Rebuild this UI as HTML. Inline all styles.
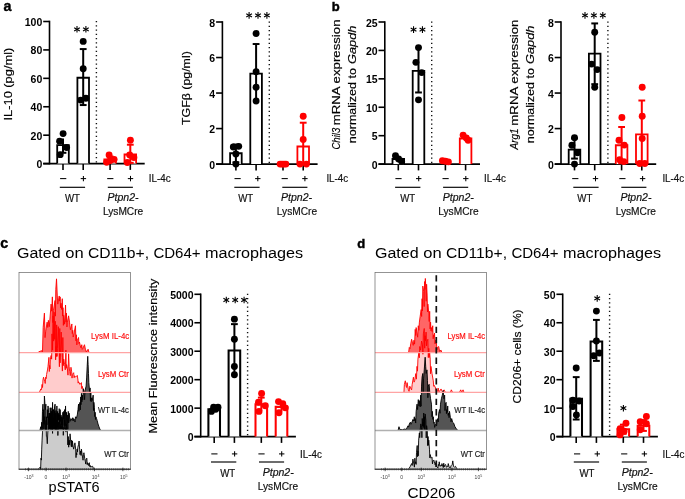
<!DOCTYPE html>
<html><head><meta charset="utf-8"><title>Figure</title>
<style>
html,body{margin:0;padding:0;background:#fff;}
body{width:685px;height:499px;overflow:hidden;font-family:"Liberation Sans",sans-serif;}
svg{display:block;will-change:transform;}
</style></head>
<body>
<svg width="685" height="499" viewBox="0 0 685 499" font-family="Liberation Sans, sans-serif">
<rect x="0" y="0" width="685" height="499" fill="#fff"/>
<text x="3.40" y="10.60" font-family="Liberation Sans, sans-serif" font-size="14.3" fill="#000" font-weight="bold" stroke="#000" stroke-width="0.4" text-anchor="start">a</text>
<text x="331.70" y="10.50" font-family="Liberation Sans, sans-serif" font-size="13" fill="#000" font-weight="bold" stroke="#000" stroke-width="0.45" text-anchor="start">b</text>
<text x="0.20" y="247.90" font-family="Liberation Sans, sans-serif" font-size="14.3" fill="#000" font-weight="bold" stroke="#000" stroke-width="0.4" text-anchor="start">c</text>
<text x="357.30" y="247.80" font-family="Liberation Sans, sans-serif" font-size="13" fill="#000" font-weight="bold" stroke="#000" stroke-width="0.45" text-anchor="start">d</text>
<line x1="96.40" y1="21.00" x2="96.40" y2="163.00" stroke="#111" stroke-width="1.4" stroke-dasharray="1.25 3.0"/>
<line x1="49.50" y1="20.70" x2="49.50" y2="164.40" stroke="#000" stroke-width="1.6" />
<line x1="43.20" y1="163.60" x2="144.70" y2="163.60" stroke="#000" stroke-width="1.6" />
<line x1="43.20" y1="163.60" x2="49.50" y2="163.60" stroke="#000" stroke-width="1.6" />
<text x="36.46" y="168.10" font-family="Liberation Sans, sans-serif" font-size="10.5" fill="#000" font-weight="bold" textLength="5.84" lengthAdjust="spacingAndGlyphs">0</text>
<line x1="43.20" y1="135.18" x2="49.50" y2="135.18" stroke="#000" stroke-width="1.6" />
<text x="30.62" y="139.68" font-family="Liberation Sans, sans-serif" font-size="10.5" fill="#000" font-weight="bold" textLength="11.68" lengthAdjust="spacingAndGlyphs">20</text>
<line x1="43.20" y1="106.76" x2="49.50" y2="106.76" stroke="#000" stroke-width="1.6" />
<text x="30.62" y="111.26" font-family="Liberation Sans, sans-serif" font-size="10.5" fill="#000" font-weight="bold" textLength="11.68" lengthAdjust="spacingAndGlyphs">40</text>
<line x1="43.20" y1="78.34" x2="49.50" y2="78.34" stroke="#000" stroke-width="1.6" />
<text x="30.62" y="82.84" font-family="Liberation Sans, sans-serif" font-size="10.5" fill="#000" font-weight="bold" textLength="11.68" lengthAdjust="spacingAndGlyphs">60</text>
<line x1="43.20" y1="49.92" x2="49.50" y2="49.92" stroke="#000" stroke-width="1.6" />
<text x="30.62" y="54.42" font-family="Liberation Sans, sans-serif" font-size="10.5" fill="#000" font-weight="bold" textLength="11.68" lengthAdjust="spacingAndGlyphs">80</text>
<line x1="43.20" y1="21.50" x2="49.50" y2="21.50" stroke="#000" stroke-width="1.6" />
<text x="24.78" y="26.00" font-family="Liberation Sans, sans-serif" font-size="10.5" fill="#000" font-weight="bold" textLength="17.52" lengthAdjust="spacingAndGlyphs">100</text>
<line x1="63.00" y1="163.60" x2="63.00" y2="169.90" stroke="#000" stroke-width="1.6" />
<line x1="83.20" y1="163.60" x2="83.20" y2="169.90" stroke="#000" stroke-width="1.6" />
<line x1="110.10" y1="163.60" x2="110.10" y2="169.90" stroke="#000" stroke-width="1.6" />
<line x1="130.30" y1="163.60" x2="130.30" y2="169.90" stroke="#000" stroke-width="1.6" />
<path d="M57.20,163.60 V145.13 H68.80 V163.60" fill="#fff" stroke="#000" stroke-width="1.8"/>
<line x1="63.00" y1="152.80" x2="63.00" y2="138.59" stroke="#000" stroke-width="2.0" />
<line x1="59.60" y1="152.80" x2="66.40" y2="152.80" stroke="#000" stroke-width="2.0" />
<circle cx="63.10" cy="133.62" r="3.45" fill="#000"/>
<circle cx="59.60" cy="141.15" r="3.45" fill="#000"/>
<circle cx="66.60" cy="147.54" r="3.45" fill="#000"/>
<circle cx="60.20" cy="154.65" r="3.45" fill="#000"/>
<path d="M77.40,163.60 V77.77 H89.00 V163.60" fill="#fff" stroke="#000" stroke-width="1.8"/>
<line x1="83.20" y1="105.05" x2="83.20" y2="49.07" stroke="#000" stroke-width="2.0" />
<line x1="79.80" y1="49.07" x2="86.60" y2="49.07" stroke="#000" stroke-width="2.0" />
<line x1="79.80" y1="105.05" x2="86.60" y2="105.05" stroke="#000" stroke-width="2.0" />
<circle cx="83.20" cy="41.39" r="3.45" fill="#000"/>
<circle cx="83.20" cy="68.68" r="3.45" fill="#000"/>
<circle cx="80.60" cy="100.08" r="3.45" fill="#000"/>
<circle cx="85.90" cy="98.23" r="3.45" fill="#000"/>
<path d="M104.30,163.60 V159.34 H115.90 V163.60" fill="#fff" stroke="#f00" stroke-width="1.8"/>
<line x1="110.10" y1="161.47" x2="110.10" y2="156.50" stroke="#f00" stroke-width="2.0" />
<line x1="106.70" y1="156.50" x2="113.50" y2="156.50" stroke="#f00" stroke-width="2.0" />
<line x1="106.70" y1="161.47" x2="113.50" y2="161.47" stroke="#f00" stroke-width="2.0" />
<circle cx="109.10" cy="155.07" r="3.45" fill="#f00"/>
<circle cx="106.70" cy="162.18" r="3.45" fill="#f00"/>
<circle cx="114.10" cy="159.34" r="3.45" fill="#f00"/>
<circle cx="110.30" cy="160.47" r="3.45" fill="#f00"/>
<path d="M124.50,163.60 V154.51 H136.10 V163.60" fill="#fff" stroke="#f00" stroke-width="1.8"/>
<line x1="130.30" y1="162.89" x2="130.30" y2="144.70" stroke="#f00" stroke-width="2.0" />
<line x1="126.90" y1="144.70" x2="133.70" y2="144.70" stroke="#f00" stroke-width="2.0" />
<line x1="126.90" y1="162.89" x2="133.70" y2="162.89" stroke="#f00" stroke-width="2.0" />
<circle cx="130.40" cy="140.30" r="3.45" fill="#f00"/>
<circle cx="129.70" cy="155.07" r="3.45" fill="#f00"/>
<circle cx="133.90" cy="157.49" r="3.45" fill="#f00"/>
<circle cx="127.30" cy="162.46" r="3.45" fill="#f00"/>
<line x1="60.10" y1="178.60" x2="66.30" y2="178.60" stroke="#000" stroke-width="1.05" />
<line x1="80.70" y1="178.60" x2="86.10" y2="178.60" stroke="#000" stroke-width="1.05" />
<line x1="83.40" y1="175.90" x2="83.40" y2="181.30" stroke="#000" stroke-width="1.05" />
<line x1="107.20" y1="178.60" x2="113.40" y2="178.60" stroke="#000" stroke-width="1.05" />
<line x1="127.80" y1="178.60" x2="133.20" y2="178.60" stroke="#000" stroke-width="1.05" />
<line x1="130.50" y1="175.90" x2="130.50" y2="181.30" stroke="#000" stroke-width="1.05" />
<text x="148.80" y="182.10" font-family="Liberation Sans, sans-serif" font-size="10" fill="#111" stroke="#111" stroke-width="0.18" textLength="21.80" lengthAdjust="spacingAndGlyphs">IL-4c</text>
<line x1="59.80" y1="187.30" x2="85.10" y2="187.30" stroke="#000" stroke-width="1.15" />
<line x1="107.80" y1="187.30" x2="132.90" y2="187.30" stroke="#000" stroke-width="1.15" />
<text x="64.90" y="202.00" font-family="Liberation Sans, sans-serif" font-size="10" fill="#111" stroke="#111" stroke-width="0.18" textLength="15.00" lengthAdjust="spacingAndGlyphs">WT</text>
<text x="107.50" y="200.70" font-family="Liberation Sans, sans-serif" font-size="10" fill="#111" stroke="#111" stroke-width="0.18" font-style="italic" textLength="31.00" lengthAdjust="spacingAndGlyphs">Ptpn2-</text>
<text x="102.95" y="215.20" font-family="Liberation Sans, sans-serif" font-size="10" fill="#111" stroke="#111" stroke-width="0.18" textLength="40.30" lengthAdjust="spacingAndGlyphs">LysMCre</text>
<line x1="77.00" y1="26.00" x2="77.00" y2="32.60" stroke="#000" stroke-width="1.1" />
<line x1="79.86" y1="27.65" x2="74.14" y2="30.95" stroke="#000" stroke-width="1.1" />
<line x1="79.86" y1="30.95" x2="74.14" y2="27.65" stroke="#000" stroke-width="1.1" />
<line x1="85.90" y1="26.00" x2="85.90" y2="32.60" stroke="#000" stroke-width="1.1" />
<line x1="88.76" y1="27.65" x2="83.04" y2="30.95" stroke="#000" stroke-width="1.1" />
<line x1="88.76" y1="30.95" x2="83.04" y2="27.65" stroke="#000" stroke-width="1.1" />
<line x1="269.30" y1="21.50" x2="269.30" y2="163.50" stroke="#111" stroke-width="1.4" stroke-dasharray="1.25 3.0"/>
<line x1="222.40" y1="21.20" x2="222.40" y2="164.90" stroke="#000" stroke-width="1.6" />
<line x1="216.10" y1="164.10" x2="317.60" y2="164.10" stroke="#000" stroke-width="1.6" />
<line x1="216.10" y1="164.10" x2="222.40" y2="164.10" stroke="#000" stroke-width="1.6" />
<text x="209.36" y="168.60" font-family="Liberation Sans, sans-serif" font-size="10.5" fill="#000" font-weight="bold" textLength="5.84" lengthAdjust="spacingAndGlyphs">0</text>
<line x1="216.10" y1="128.57" x2="222.40" y2="128.57" stroke="#000" stroke-width="1.6" />
<text x="209.36" y="133.07" font-family="Liberation Sans, sans-serif" font-size="10.5" fill="#000" font-weight="bold" textLength="5.84" lengthAdjust="spacingAndGlyphs">2</text>
<line x1="216.10" y1="93.05" x2="222.40" y2="93.05" stroke="#000" stroke-width="1.6" />
<text x="209.36" y="97.55" font-family="Liberation Sans, sans-serif" font-size="10.5" fill="#000" font-weight="bold" textLength="5.84" lengthAdjust="spacingAndGlyphs">4</text>
<line x1="216.10" y1="57.53" x2="222.40" y2="57.53" stroke="#000" stroke-width="1.6" />
<text x="209.36" y="62.03" font-family="Liberation Sans, sans-serif" font-size="10.5" fill="#000" font-weight="bold" textLength="5.84" lengthAdjust="spacingAndGlyphs">6</text>
<line x1="216.10" y1="22.00" x2="222.40" y2="22.00" stroke="#000" stroke-width="1.6" />
<text x="209.36" y="26.50" font-family="Liberation Sans, sans-serif" font-size="10.5" fill="#000" font-weight="bold" textLength="5.84" lengthAdjust="spacingAndGlyphs">8</text>
<line x1="235.90" y1="164.10" x2="235.90" y2="170.40" stroke="#000" stroke-width="1.6" />
<line x1="256.10" y1="164.10" x2="256.10" y2="170.40" stroke="#000" stroke-width="1.6" />
<line x1="283.00" y1="164.10" x2="283.00" y2="170.40" stroke="#000" stroke-width="1.6" />
<line x1="303.20" y1="164.10" x2="303.20" y2="170.40" stroke="#000" stroke-width="1.6" />
<path d="M230.10,164.10 V153.26 H241.70 V164.10" fill="#fff" stroke="#000" stroke-width="1.8"/>
<line x1="235.90" y1="162.32" x2="235.90" y2="144.56" stroke="#000" stroke-width="2.0" />
<line x1="232.50" y1="144.56" x2="239.30" y2="144.56" stroke="#000" stroke-width="2.0" />
<line x1="232.50" y1="162.32" x2="239.30" y2="162.32" stroke="#000" stroke-width="2.0" />
<circle cx="233.30" cy="147.05" r="3.45" fill="#000"/>
<circle cx="238.70" cy="146.34" r="3.45" fill="#000"/>
<circle cx="235.90" cy="153.98" r="3.45" fill="#000"/>
<circle cx="235.90" cy="164.10" r="3.45" fill="#000"/>
<path d="M250.30,164.10 V73.69 H261.90 V164.10" fill="#fff" stroke="#000" stroke-width="1.8"/>
<line x1="256.10" y1="101.93" x2="256.10" y2="44.03" stroke="#000" stroke-width="2.0" />
<line x1="252.70" y1="44.03" x2="259.50" y2="44.03" stroke="#000" stroke-width="2.0" />
<circle cx="256.10" cy="33.55" r="3.45" fill="#000"/>
<circle cx="256.10" cy="71.73" r="3.45" fill="#000"/>
<circle cx="256.10" cy="87.19" r="3.45" fill="#000"/>
<circle cx="256.10" cy="101.04" r="3.45" fill="#000"/>
<circle cx="280.10" cy="164.10" r="3.45" fill="#f00"/>
<circle cx="282.00" cy="164.10" r="3.45" fill="#f00"/>
<circle cx="284.00" cy="164.10" r="3.45" fill="#f00"/>
<circle cx="285.90" cy="164.10" r="3.45" fill="#f00"/>
<path d="M297.40,164.10 V146.52 H309.00 V164.10" fill="#fff" stroke="#f00" stroke-width="1.8"/>
<line x1="303.20" y1="164.10" x2="303.20" y2="122.71" stroke="#f00" stroke-width="2.0" />
<line x1="299.80" y1="122.71" x2="306.60" y2="122.71" stroke="#f00" stroke-width="2.0" />
<circle cx="303.20" cy="116.32" r="3.45" fill="#f00"/>
<circle cx="303.20" cy="139.41" r="3.45" fill="#f00"/>
<circle cx="300.00" cy="164.10" r="3.45" fill="#f00"/>
<circle cx="306.40" cy="164.10" r="3.45" fill="#f00"/>
<line x1="234.50" y1="178.60" x2="240.70" y2="178.60" stroke="#000" stroke-width="1.05" />
<line x1="255.10" y1="178.60" x2="260.50" y2="178.60" stroke="#000" stroke-width="1.05" />
<line x1="257.80" y1="175.90" x2="257.80" y2="181.30" stroke="#000" stroke-width="1.05" />
<line x1="281.60" y1="178.60" x2="287.80" y2="178.60" stroke="#000" stroke-width="1.05" />
<line x1="302.20" y1="178.60" x2="307.60" y2="178.60" stroke="#000" stroke-width="1.05" />
<line x1="304.90" y1="175.90" x2="304.90" y2="181.30" stroke="#000" stroke-width="1.05" />
<text x="326.40" y="182.10" font-family="Liberation Sans, sans-serif" font-size="10" fill="#111" stroke="#111" stroke-width="0.18" textLength="21.80" lengthAdjust="spacingAndGlyphs">IL-4c</text>
<line x1="234.30" y1="187.30" x2="259.60" y2="187.30" stroke="#000" stroke-width="1.15" />
<line x1="282.30" y1="187.30" x2="307.40" y2="187.30" stroke="#000" stroke-width="1.15" />
<text x="238.20" y="202.00" font-family="Liberation Sans, sans-serif" font-size="10" fill="#111" stroke="#111" stroke-width="0.18" textLength="15.00" lengthAdjust="spacingAndGlyphs">WT</text>
<text x="281.00" y="200.70" font-family="Liberation Sans, sans-serif" font-size="10" fill="#111" stroke="#111" stroke-width="0.18" font-style="italic" textLength="31.00" lengthAdjust="spacingAndGlyphs">Ptpn2-</text>
<text x="276.85" y="215.20" font-family="Liberation Sans, sans-serif" font-size="10" fill="#111" stroke="#111" stroke-width="0.18" textLength="40.30" lengthAdjust="spacingAndGlyphs">LysMCre</text>
<line x1="249.10" y1="12.10" x2="249.10" y2="18.70" stroke="#000" stroke-width="1.1" />
<line x1="251.96" y1="13.75" x2="246.24" y2="17.05" stroke="#000" stroke-width="1.1" />
<line x1="251.96" y1="17.05" x2="246.24" y2="13.75" stroke="#000" stroke-width="1.1" />
<line x1="258.00" y1="12.10" x2="258.00" y2="18.70" stroke="#000" stroke-width="1.1" />
<line x1="260.86" y1="13.75" x2="255.14" y2="17.05" stroke="#000" stroke-width="1.1" />
<line x1="260.86" y1="17.05" x2="255.14" y2="13.75" stroke="#000" stroke-width="1.1" />
<line x1="266.90" y1="12.10" x2="266.90" y2="18.70" stroke="#000" stroke-width="1.1" />
<line x1="269.76" y1="13.75" x2="264.04" y2="17.05" stroke="#000" stroke-width="1.1" />
<line x1="269.76" y1="17.05" x2="264.04" y2="13.75" stroke="#000" stroke-width="1.1" />
<line x1="431.70" y1="21.50" x2="431.70" y2="163.50" stroke="#111" stroke-width="1.4" stroke-dasharray="1.25 3.0"/>
<line x1="384.80" y1="21.20" x2="384.80" y2="164.90" stroke="#000" stroke-width="1.6" />
<line x1="378.50" y1="164.10" x2="480.00" y2="164.10" stroke="#000" stroke-width="1.6" />
<line x1="378.50" y1="164.10" x2="384.80" y2="164.10" stroke="#000" stroke-width="1.6" />
<text x="371.76" y="168.60" font-family="Liberation Sans, sans-serif" font-size="10.5" fill="#000" font-weight="bold" textLength="5.84" lengthAdjust="spacingAndGlyphs">0</text>
<line x1="378.50" y1="135.68" x2="384.80" y2="135.68" stroke="#000" stroke-width="1.6" />
<text x="371.76" y="140.18" font-family="Liberation Sans, sans-serif" font-size="10.5" fill="#000" font-weight="bold" textLength="5.84" lengthAdjust="spacingAndGlyphs">5</text>
<line x1="378.50" y1="107.26" x2="384.80" y2="107.26" stroke="#000" stroke-width="1.6" />
<text x="365.92" y="111.76" font-family="Liberation Sans, sans-serif" font-size="10.5" fill="#000" font-weight="bold" textLength="11.68" lengthAdjust="spacingAndGlyphs">10</text>
<line x1="378.50" y1="78.84" x2="384.80" y2="78.84" stroke="#000" stroke-width="1.6" />
<text x="365.92" y="83.34" font-family="Liberation Sans, sans-serif" font-size="10.5" fill="#000" font-weight="bold" textLength="11.68" lengthAdjust="spacingAndGlyphs">15</text>
<line x1="378.50" y1="50.42" x2="384.80" y2="50.42" stroke="#000" stroke-width="1.6" />
<text x="365.92" y="54.92" font-family="Liberation Sans, sans-serif" font-size="10.5" fill="#000" font-weight="bold" textLength="11.68" lengthAdjust="spacingAndGlyphs">20</text>
<line x1="378.50" y1="22.00" x2="384.80" y2="22.00" stroke="#000" stroke-width="1.6" />
<text x="365.92" y="26.50" font-family="Liberation Sans, sans-serif" font-size="10.5" fill="#000" font-weight="bold" textLength="11.68" lengthAdjust="spacingAndGlyphs">25</text>
<line x1="398.30" y1="164.10" x2="398.30" y2="170.40" stroke="#000" stroke-width="1.6" />
<line x1="418.50" y1="164.10" x2="418.50" y2="170.40" stroke="#000" stroke-width="1.6" />
<line x1="445.40" y1="164.10" x2="445.40" y2="170.40" stroke="#000" stroke-width="1.6" />
<line x1="465.60" y1="164.10" x2="465.60" y2="170.40" stroke="#000" stroke-width="1.6" />
<path d="M392.50,164.10 V158.98 H404.10 V164.10" fill="#fff" stroke="#000" stroke-width="1.8"/>
<circle cx="395.50" cy="155.80" r="3.45" fill="#000"/>
<circle cx="398.60" cy="158.98" r="3.45" fill="#000"/>
<circle cx="401.60" cy="161.26" r="3.45" fill="#000"/>
<path d="M412.70,164.10 V70.88 H424.30 V164.10" fill="#fff" stroke="#000" stroke-width="1.8"/>
<line x1="418.50" y1="92.48" x2="418.50" y2="47.58" stroke="#000" stroke-width="2.0" />
<line x1="415.10" y1="92.48" x2="421.90" y2="92.48" stroke="#000" stroke-width="2.0" />
<circle cx="418.50" cy="47.58" r="3.45" fill="#000"/>
<circle cx="415.90" cy="62.36" r="3.45" fill="#000"/>
<circle cx="421.70" cy="72.59" r="3.45" fill="#000"/>
<circle cx="418.50" cy="99.87" r="3.45" fill="#000"/>
<circle cx="442.40" cy="160.69" r="3.45" fill="#f00"/>
<circle cx="445.40" cy="161.26" r="3.45" fill="#f00"/>
<circle cx="448.40" cy="161.83" r="3.45" fill="#f00"/>
<path d="M459.80,164.10 V138.52 H471.40 V164.10" fill="#fff" stroke="#f00" stroke-width="1.8"/>
<line x1="465.60" y1="140.80" x2="465.60" y2="135.68" stroke="#f00" stroke-width="2.0" />
<circle cx="463.10" cy="135.11" r="3.45" fill="#f00"/>
<circle cx="466.30" cy="137.95" r="3.45" fill="#f00"/>
<circle cx="468.10" cy="140.23" r="3.45" fill="#f00"/>
<line x1="395.40" y1="178.60" x2="401.60" y2="178.60" stroke="#000" stroke-width="1.05" />
<line x1="416.00" y1="178.60" x2="421.40" y2="178.60" stroke="#000" stroke-width="1.05" />
<line x1="418.70" y1="175.90" x2="418.70" y2="181.30" stroke="#000" stroke-width="1.05" />
<line x1="442.50" y1="178.60" x2="448.70" y2="178.60" stroke="#000" stroke-width="1.05" />
<line x1="463.10" y1="178.60" x2="468.50" y2="178.60" stroke="#000" stroke-width="1.05" />
<line x1="465.80" y1="175.90" x2="465.80" y2="181.30" stroke="#000" stroke-width="1.05" />
<text x="484.10" y="182.10" font-family="Liberation Sans, sans-serif" font-size="10" fill="#111" stroke="#111" stroke-width="0.18" textLength="21.80" lengthAdjust="spacingAndGlyphs">IL-4c</text>
<line x1="395.10" y1="187.30" x2="420.40" y2="187.30" stroke="#000" stroke-width="1.15" />
<line x1="443.10" y1="187.30" x2="468.20" y2="187.30" stroke="#000" stroke-width="1.15" />
<text x="400.20" y="202.00" font-family="Liberation Sans, sans-serif" font-size="10" fill="#111" stroke="#111" stroke-width="0.18" textLength="15.00" lengthAdjust="spacingAndGlyphs">WT</text>
<text x="442.80" y="200.70" font-family="Liberation Sans, sans-serif" font-size="10" fill="#111" stroke="#111" stroke-width="0.18" font-style="italic" textLength="31.00" lengthAdjust="spacingAndGlyphs">Ptpn2-</text>
<text x="438.25" y="215.20" font-family="Liberation Sans, sans-serif" font-size="10" fill="#111" stroke="#111" stroke-width="0.18" textLength="40.30" lengthAdjust="spacingAndGlyphs">LysMCre</text>
<line x1="413.55" y1="26.30" x2="413.55" y2="32.90" stroke="#000" stroke-width="1.1" />
<line x1="416.41" y1="27.95" x2="410.69" y2="31.25" stroke="#000" stroke-width="1.1" />
<line x1="416.41" y1="31.25" x2="410.69" y2="27.95" stroke="#000" stroke-width="1.1" />
<line x1="422.45" y1="26.30" x2="422.45" y2="32.90" stroke="#000" stroke-width="1.1" />
<line x1="425.31" y1="27.95" x2="419.59" y2="31.25" stroke="#000" stroke-width="1.1" />
<line x1="425.31" y1="31.25" x2="419.59" y2="27.95" stroke="#000" stroke-width="1.1" />
<line x1="607.90" y1="21.50" x2="607.90" y2="163.50" stroke="#111" stroke-width="1.4" stroke-dasharray="1.25 3.0"/>
<line x1="561.00" y1="21.20" x2="561.00" y2="164.90" stroke="#000" stroke-width="1.6" />
<line x1="554.70" y1="164.10" x2="656.20" y2="164.10" stroke="#000" stroke-width="1.6" />
<line x1="554.70" y1="164.10" x2="561.00" y2="164.10" stroke="#000" stroke-width="1.6" />
<text x="547.96" y="168.60" font-family="Liberation Sans, sans-serif" font-size="10.5" fill="#000" font-weight="bold" textLength="5.84" lengthAdjust="spacingAndGlyphs">0</text>
<line x1="554.70" y1="128.57" x2="561.00" y2="128.57" stroke="#000" stroke-width="1.6" />
<text x="547.96" y="133.07" font-family="Liberation Sans, sans-serif" font-size="10.5" fill="#000" font-weight="bold" textLength="5.84" lengthAdjust="spacingAndGlyphs">2</text>
<line x1="554.70" y1="93.05" x2="561.00" y2="93.05" stroke="#000" stroke-width="1.6" />
<text x="547.96" y="97.55" font-family="Liberation Sans, sans-serif" font-size="10.5" fill="#000" font-weight="bold" textLength="5.84" lengthAdjust="spacingAndGlyphs">4</text>
<line x1="554.70" y1="57.53" x2="561.00" y2="57.53" stroke="#000" stroke-width="1.6" />
<text x="547.96" y="62.03" font-family="Liberation Sans, sans-serif" font-size="10.5" fill="#000" font-weight="bold" textLength="5.84" lengthAdjust="spacingAndGlyphs">6</text>
<line x1="554.70" y1="22.00" x2="561.00" y2="22.00" stroke="#000" stroke-width="1.6" />
<text x="547.96" y="26.50" font-family="Liberation Sans, sans-serif" font-size="10.5" fill="#000" font-weight="bold" textLength="5.84" lengthAdjust="spacingAndGlyphs">8</text>
<line x1="574.50" y1="164.10" x2="574.50" y2="170.40" stroke="#000" stroke-width="1.6" />
<line x1="594.70" y1="164.10" x2="594.70" y2="170.40" stroke="#000" stroke-width="1.6" />
<line x1="621.60" y1="164.10" x2="621.60" y2="170.40" stroke="#000" stroke-width="1.6" />
<line x1="641.80" y1="164.10" x2="641.80" y2="170.40" stroke="#000" stroke-width="1.6" />
<path d="M568.70,164.10 V149.53 H580.30 V164.10" fill="#fff" stroke="#000" stroke-width="1.8"/>
<line x1="574.50" y1="158.59" x2="574.50" y2="138.34" stroke="#000" stroke-width="2.0" />
<line x1="571.10" y1="138.34" x2="577.90" y2="138.34" stroke="#000" stroke-width="2.0" />
<line x1="571.10" y1="158.59" x2="577.90" y2="158.59" stroke="#000" stroke-width="2.0" />
<circle cx="574.50" cy="137.63" r="3.45" fill="#000"/>
<circle cx="571.90" cy="145.27" r="3.45" fill="#000"/>
<circle cx="577.50" cy="152.73" r="3.45" fill="#000"/>
<circle cx="574.50" cy="164.10" r="3.45" fill="#000"/>
<path d="M588.90,164.10 V53.62 H600.50 V164.10" fill="#fff" stroke="#000" stroke-width="1.8"/>
<line x1="594.70" y1="84.17" x2="594.70" y2="23.42" stroke="#000" stroke-width="2.0" />
<line x1="591.30" y1="23.42" x2="598.10" y2="23.42" stroke="#000" stroke-width="2.0" />
<line x1="591.30" y1="84.17" x2="598.10" y2="84.17" stroke="#000" stroke-width="2.0" />
<circle cx="594.70" cy="32.30" r="3.45" fill="#000"/>
<circle cx="591.60" cy="64.10" r="3.45" fill="#000"/>
<circle cx="597.20" cy="69.60" r="3.45" fill="#000"/>
<circle cx="594.70" cy="87.19" r="3.45" fill="#000"/>
<path d="M615.80,164.10 V145.27 H627.40 V164.10" fill="#fff" stroke="#f00" stroke-width="1.8"/>
<line x1="621.60" y1="163.21" x2="621.60" y2="126.98" stroke="#f00" stroke-width="2.0" />
<line x1="618.20" y1="126.98" x2="625.00" y2="126.98" stroke="#f00" stroke-width="2.0" />
<line x1="618.20" y1="163.21" x2="625.00" y2="163.21" stroke="#f00" stroke-width="2.0" />
<circle cx="621.90" cy="117.56" r="3.45" fill="#f00"/>
<circle cx="619.00" cy="140.30" r="3.45" fill="#f00"/>
<circle cx="624.30" cy="145.09" r="3.45" fill="#f00"/>
<circle cx="623.80" cy="161.61" r="3.45" fill="#f00"/>
<circle cx="619.60" cy="159.66" r="3.45" fill="#f00"/>
<path d="M636.00,164.10 V134.44 H647.60 V164.10" fill="#fff" stroke="#f00" stroke-width="1.8"/>
<line x1="641.80" y1="164.10" x2="641.80" y2="100.51" stroke="#f00" stroke-width="2.0" />
<line x1="638.40" y1="100.51" x2="645.20" y2="100.51" stroke="#f00" stroke-width="2.0" />
<circle cx="642.20" cy="87.19" r="3.45" fill="#f00"/>
<circle cx="642.20" cy="116.14" r="3.45" fill="#f00"/>
<circle cx="642.20" cy="138.52" r="3.45" fill="#f00"/>
<circle cx="639.70" cy="163.57" r="3.45" fill="#f00"/>
<circle cx="644.80" cy="163.57" r="3.45" fill="#f00"/>
<line x1="572.20" y1="178.60" x2="578.40" y2="178.60" stroke="#000" stroke-width="1.05" />
<line x1="592.80" y1="178.60" x2="598.20" y2="178.60" stroke="#000" stroke-width="1.05" />
<line x1="595.50" y1="175.90" x2="595.50" y2="181.30" stroke="#000" stroke-width="1.05" />
<line x1="619.30" y1="178.60" x2="625.50" y2="178.60" stroke="#000" stroke-width="1.05" />
<line x1="639.90" y1="178.60" x2="645.30" y2="178.60" stroke="#000" stroke-width="1.05" />
<line x1="642.60" y1="175.90" x2="642.60" y2="181.30" stroke="#000" stroke-width="1.05" />
<text x="662.40" y="182.10" font-family="Liberation Sans, sans-serif" font-size="10" fill="#111" stroke="#111" stroke-width="0.18" textLength="21.80" lengthAdjust="spacingAndGlyphs">IL-4c</text>
<line x1="573.30" y1="187.30" x2="598.60" y2="187.30" stroke="#000" stroke-width="1.15" />
<line x1="621.30" y1="187.30" x2="646.40" y2="187.30" stroke="#000" stroke-width="1.15" />
<text x="577.30" y="202.00" font-family="Liberation Sans, sans-serif" font-size="10" fill="#111" stroke="#111" stroke-width="0.18" textLength="15.00" lengthAdjust="spacingAndGlyphs">WT</text>
<text x="620.40" y="200.70" font-family="Liberation Sans, sans-serif" font-size="10" fill="#111" stroke="#111" stroke-width="0.18" font-style="italic" textLength="31.00" lengthAdjust="spacingAndGlyphs">Ptpn2-</text>
<text x="615.65" y="215.20" font-family="Liberation Sans, sans-serif" font-size="10" fill="#111" stroke="#111" stroke-width="0.18" textLength="40.30" lengthAdjust="spacingAndGlyphs">LysMCre</text>
<line x1="585.00" y1="12.10" x2="585.00" y2="18.70" stroke="#000" stroke-width="1.1" />
<line x1="587.86" y1="13.75" x2="582.14" y2="17.05" stroke="#000" stroke-width="1.1" />
<line x1="587.86" y1="17.05" x2="582.14" y2="13.75" stroke="#000" stroke-width="1.1" />
<line x1="593.90" y1="12.10" x2="593.90" y2="18.70" stroke="#000" stroke-width="1.1" />
<line x1="596.76" y1="13.75" x2="591.04" y2="17.05" stroke="#000" stroke-width="1.1" />
<line x1="596.76" y1="17.05" x2="591.04" y2="13.75" stroke="#000" stroke-width="1.1" />
<line x1="602.80" y1="12.10" x2="602.80" y2="18.70" stroke="#000" stroke-width="1.1" />
<line x1="605.66" y1="13.75" x2="599.94" y2="17.05" stroke="#000" stroke-width="1.1" />
<line x1="605.66" y1="17.05" x2="599.94" y2="13.75" stroke="#000" stroke-width="1.1" />
<line x1="247.60" y1="293.80" x2="247.60" y2="436.00" stroke="#111" stroke-width="1.4" stroke-dasharray="1.25 3.0"/>
<line x1="200.70" y1="293.50" x2="200.70" y2="437.40" stroke="#000" stroke-width="1.6" />
<line x1="194.40" y1="436.60" x2="295.90" y2="436.60" stroke="#000" stroke-width="1.6" />
<line x1="194.40" y1="436.60" x2="200.70" y2="436.60" stroke="#000" stroke-width="1.6" />
<text x="187.66" y="441.10" font-family="Liberation Sans, sans-serif" font-size="10.5" fill="#000" font-weight="bold" textLength="5.84" lengthAdjust="spacingAndGlyphs">0</text>
<line x1="194.40" y1="408.14" x2="200.70" y2="408.14" stroke="#000" stroke-width="1.6" />
<text x="170.14" y="412.64" font-family="Liberation Sans, sans-serif" font-size="10.5" fill="#000" font-weight="bold" textLength="23.36" lengthAdjust="spacingAndGlyphs">1000</text>
<line x1="194.40" y1="379.68" x2="200.70" y2="379.68" stroke="#000" stroke-width="1.6" />
<text x="170.14" y="384.18" font-family="Liberation Sans, sans-serif" font-size="10.5" fill="#000" font-weight="bold" textLength="23.36" lengthAdjust="spacingAndGlyphs">2000</text>
<line x1="194.40" y1="351.22" x2="200.70" y2="351.22" stroke="#000" stroke-width="1.6" />
<text x="170.14" y="355.72" font-family="Liberation Sans, sans-serif" font-size="10.5" fill="#000" font-weight="bold" textLength="23.36" lengthAdjust="spacingAndGlyphs">3000</text>
<line x1="194.40" y1="322.76" x2="200.70" y2="322.76" stroke="#000" stroke-width="1.6" />
<text x="170.14" y="327.26" font-family="Liberation Sans, sans-serif" font-size="10.5" fill="#000" font-weight="bold" textLength="23.36" lengthAdjust="spacingAndGlyphs">4000</text>
<line x1="194.40" y1="294.30" x2="200.70" y2="294.30" stroke="#000" stroke-width="1.6" />
<text x="170.14" y="298.80" font-family="Liberation Sans, sans-serif" font-size="10.5" fill="#000" font-weight="bold" textLength="23.36" lengthAdjust="spacingAndGlyphs">5000</text>
<line x1="214.20" y1="436.60" x2="214.20" y2="442.90" stroke="#000" stroke-width="1.6" />
<line x1="234.40" y1="436.60" x2="234.40" y2="442.90" stroke="#000" stroke-width="1.6" />
<line x1="261.30" y1="436.60" x2="261.30" y2="442.90" stroke="#000" stroke-width="1.6" />
<line x1="281.50" y1="436.60" x2="281.50" y2="442.90" stroke="#000" stroke-width="1.6" />
<path d="M208.40,436.60 V409.28 H220.00 V436.60" fill="#fff" stroke="#000" stroke-width="2.05"/>
<circle cx="211.40" cy="411.38" r="3.45" fill="#000"/>
<circle cx="213.60" cy="407.17" r="3.45" fill="#000"/>
<circle cx="218.00" cy="407.17" r="3.45" fill="#000"/>
<circle cx="215.70" cy="409.28" r="3.45" fill="#000"/>
<path d="M228.60,436.60 V350.45 H240.20 V436.60" fill="#fff" stroke="#000" stroke-width="2.05"/>
<line x1="234.40" y1="375.41" x2="234.40" y2="324.13" stroke="#000" stroke-width="2.0" />
<line x1="231.00" y1="324.13" x2="237.80" y2="324.13" stroke="#000" stroke-width="2.0" />
<circle cx="234.40" cy="319.15" r="3.45" fill="#000"/>
<circle cx="234.40" cy="339.32" r="3.45" fill="#000"/>
<circle cx="234.40" cy="366.50" r="3.45" fill="#000"/>
<circle cx="234.40" cy="374.70" r="3.45" fill="#000"/>
<path d="M255.50,436.60 V404.38 H267.10 V436.60" fill="#fff" stroke="#f00" stroke-width="2.05"/>
<line x1="261.30" y1="410.99" x2="261.30" y2="397.61" stroke="#f00" stroke-width="2.0" />
<line x1="257.90" y1="397.61" x2="264.70" y2="397.61" stroke="#f00" stroke-width="2.0" />
<circle cx="261.60" cy="393.57" r="3.45" fill="#f00"/>
<circle cx="258.50" cy="402.28" r="3.45" fill="#f00"/>
<circle cx="265.30" cy="405.78" r="3.45" fill="#f00"/>
<circle cx="259.00" cy="411.38" r="3.45" fill="#f00"/>
<path d="M275.70,436.60 V406.89 H287.30 V436.60" fill="#fff" stroke="#f00" stroke-width="2.05"/>
<line x1="281.50" y1="411.56" x2="281.50" y2="402.45" stroke="#f00" stroke-width="2.0" />
<circle cx="278.50" cy="401.59" r="3.45" fill="#f00"/>
<circle cx="282.80" cy="403.67" r="3.45" fill="#f00"/>
<circle cx="285.30" cy="407.86" r="3.45" fill="#f00"/>
<circle cx="279.00" cy="412.69" r="3.45" fill="#f00"/>
<line x1="211.30" y1="453.90" x2="217.50" y2="453.90" stroke="#000" stroke-width="1.05" />
<line x1="231.90" y1="453.90" x2="237.30" y2="453.90" stroke="#000" stroke-width="1.05" />
<line x1="234.60" y1="451.20" x2="234.60" y2="456.60" stroke="#000" stroke-width="1.05" />
<line x1="258.40" y1="453.90" x2="264.60" y2="453.90" stroke="#000" stroke-width="1.05" />
<line x1="279.00" y1="453.90" x2="284.40" y2="453.90" stroke="#000" stroke-width="1.05" />
<line x1="281.70" y1="451.20" x2="281.70" y2="456.60" stroke="#000" stroke-width="1.05" />
<text x="300.00" y="457.60" font-family="Liberation Sans, sans-serif" font-size="10" fill="#111" stroke="#111" stroke-width="0.18" textLength="21.80" lengthAdjust="spacingAndGlyphs">IL-4c</text>
<line x1="211.00" y1="462.00" x2="236.30" y2="462.00" stroke="#000" stroke-width="1.15" />
<line x1="259.00" y1="462.00" x2="284.10" y2="462.00" stroke="#000" stroke-width="1.15" />
<text x="220.20" y="477.00" font-family="Liberation Sans, sans-serif" font-size="10" fill="#111" stroke="#111" stroke-width="0.18" textLength="15.00" lengthAdjust="spacingAndGlyphs">WT</text>
<text x="262.70" y="475.70" font-family="Liberation Sans, sans-serif" font-size="10" fill="#111" stroke="#111" stroke-width="0.18" font-style="italic" textLength="31.00" lengthAdjust="spacingAndGlyphs">Ptpn2-</text>
<text x="257.75" y="489.90" font-family="Liberation Sans, sans-serif" font-size="10" fill="#111" stroke="#111" stroke-width="0.18" textLength="40.30" lengthAdjust="spacingAndGlyphs">LysMCre</text>
<line x1="226.30" y1="296.70" x2="226.30" y2="303.30" stroke="#000" stroke-width="1.1" />
<line x1="229.16" y1="298.35" x2="223.44" y2="301.65" stroke="#000" stroke-width="1.1" />
<line x1="229.16" y1="301.65" x2="223.44" y2="298.35" stroke="#000" stroke-width="1.1" />
<line x1="235.20" y1="296.70" x2="235.20" y2="303.30" stroke="#000" stroke-width="1.1" />
<line x1="238.06" y1="298.35" x2="232.34" y2="301.65" stroke="#000" stroke-width="1.1" />
<line x1="238.06" y1="301.65" x2="232.34" y2="298.35" stroke="#000" stroke-width="1.1" />
<line x1="244.10" y1="296.70" x2="244.10" y2="303.30" stroke="#000" stroke-width="1.1" />
<line x1="246.96" y1="298.35" x2="241.24" y2="301.65" stroke="#000" stroke-width="1.1" />
<line x1="246.96" y1="301.65" x2="241.24" y2="298.35" stroke="#000" stroke-width="1.1" />
<line x1="609.60" y1="293.80" x2="609.60" y2="436.00" stroke="#111" stroke-width="1.4" stroke-dasharray="1.25 3.0"/>
<line x1="562.70" y1="293.50" x2="562.70" y2="437.40" stroke="#000" stroke-width="1.6" />
<line x1="556.40" y1="436.60" x2="657.90" y2="436.60" stroke="#000" stroke-width="1.6" />
<line x1="556.40" y1="436.60" x2="562.70" y2="436.60" stroke="#000" stroke-width="1.6" />
<text x="549.66" y="441.10" font-family="Liberation Sans, sans-serif" font-size="10.5" fill="#000" font-weight="bold" textLength="5.84" lengthAdjust="spacingAndGlyphs">0</text>
<line x1="556.40" y1="408.14" x2="562.70" y2="408.14" stroke="#000" stroke-width="1.6" />
<text x="543.82" y="412.64" font-family="Liberation Sans, sans-serif" font-size="10.5" fill="#000" font-weight="bold" textLength="11.68" lengthAdjust="spacingAndGlyphs">10</text>
<line x1="556.40" y1="379.68" x2="562.70" y2="379.68" stroke="#000" stroke-width="1.6" />
<text x="543.82" y="384.18" font-family="Liberation Sans, sans-serif" font-size="10.5" fill="#000" font-weight="bold" textLength="11.68" lengthAdjust="spacingAndGlyphs">20</text>
<line x1="556.40" y1="351.22" x2="562.70" y2="351.22" stroke="#000" stroke-width="1.6" />
<text x="543.82" y="355.72" font-family="Liberation Sans, sans-serif" font-size="10.5" fill="#000" font-weight="bold" textLength="11.68" lengthAdjust="spacingAndGlyphs">30</text>
<line x1="556.40" y1="322.76" x2="562.70" y2="322.76" stroke="#000" stroke-width="1.6" />
<text x="543.82" y="327.26" font-family="Liberation Sans, sans-serif" font-size="10.5" fill="#000" font-weight="bold" textLength="11.68" lengthAdjust="spacingAndGlyphs">40</text>
<line x1="556.40" y1="294.30" x2="562.70" y2="294.30" stroke="#000" stroke-width="1.6" />
<text x="543.82" y="298.80" font-family="Liberation Sans, sans-serif" font-size="10.5" fill="#000" font-weight="bold" textLength="11.68" lengthAdjust="spacingAndGlyphs">50</text>
<line x1="576.20" y1="436.60" x2="576.20" y2="442.90" stroke="#000" stroke-width="1.6" />
<line x1="596.40" y1="436.60" x2="596.40" y2="442.90" stroke="#000" stroke-width="1.6" />
<line x1="623.30" y1="436.60" x2="623.30" y2="442.90" stroke="#000" stroke-width="1.6" />
<line x1="643.50" y1="436.60" x2="643.50" y2="442.90" stroke="#000" stroke-width="1.6" />
<path d="M570.40,436.60 V398.75 H582.00 V436.60" fill="#fff" stroke="#000" stroke-width="2.05"/>
<line x1="576.20" y1="419.52" x2="576.20" y2="377.12" stroke="#000" stroke-width="2.0" />
<line x1="572.80" y1="377.12" x2="579.60" y2="377.12" stroke="#000" stroke-width="2.0" />
<line x1="572.80" y1="419.52" x2="579.60" y2="419.52" stroke="#000" stroke-width="2.0" />
<circle cx="576.20" cy="368.01" r="3.45" fill="#000"/>
<circle cx="572.90" cy="400.17" r="3.45" fill="#000"/>
<circle cx="579.10" cy="401.03" r="3.45" fill="#000"/>
<circle cx="572.90" cy="406.43" r="3.45" fill="#000"/>
<circle cx="576.40" cy="414.97" r="3.45" fill="#000"/>
<path d="M590.60,436.60 V341.54 H602.20 V436.60" fill="#fff" stroke="#000" stroke-width="2.05"/>
<line x1="596.40" y1="360.90" x2="596.40" y2="319.91" stroke="#000" stroke-width="2.0" />
<line x1="593.00" y1="319.91" x2="599.80" y2="319.91" stroke="#000" stroke-width="2.0" />
<line x1="593.00" y1="360.90" x2="599.80" y2="360.90" stroke="#000" stroke-width="2.0" />
<circle cx="596.40" cy="311.09" r="3.45" fill="#000"/>
<circle cx="596.40" cy="340.97" r="3.45" fill="#000"/>
<circle cx="599.40" cy="352.93" r="3.45" fill="#000"/>
<circle cx="593.70" cy="355.77" r="3.45" fill="#000"/>
<path d="M617.50,436.60 V429.20 H629.10 V436.60" fill="#fff" stroke="#f00" stroke-width="2.05"/>
<line x1="623.30" y1="433.75" x2="623.30" y2="424.65" stroke="#f00" stroke-width="2.0" />
<line x1="619.90" y1="424.65" x2="626.70" y2="424.65" stroke="#f00" stroke-width="2.0" />
<line x1="619.90" y1="433.75" x2="626.70" y2="433.75" stroke="#f00" stroke-width="2.0" />
<circle cx="626.00" cy="423.22" r="3.45" fill="#f00"/>
<circle cx="620.10" cy="428.63" r="3.45" fill="#f00"/>
<circle cx="624.10" cy="431.19" r="3.45" fill="#f00"/>
<circle cx="620.10" cy="434.89" r="3.45" fill="#f00"/>
<path d="M637.70,436.60 V425.79 H649.30 V436.60" fill="#fff" stroke="#f00" stroke-width="2.05"/>
<line x1="643.50" y1="430.91" x2="643.50" y2="420.09" stroke="#f00" stroke-width="2.0" />
<line x1="640.10" y1="420.09" x2="646.90" y2="420.09" stroke="#f00" stroke-width="2.0" />
<line x1="640.10" y1="430.91" x2="646.90" y2="430.91" stroke="#f00" stroke-width="2.0" />
<circle cx="646.40" cy="416.39" r="3.45" fill="#f00"/>
<circle cx="640.20" cy="421.80" r="3.45" fill="#f00"/>
<circle cx="646.40" cy="423.79" r="3.45" fill="#f00"/>
<circle cx="640.20" cy="429.77" r="3.45" fill="#f00"/>
<line x1="574.00" y1="453.90" x2="580.20" y2="453.90" stroke="#000" stroke-width="1.05" />
<line x1="594.60" y1="453.90" x2="600.00" y2="453.90" stroke="#000" stroke-width="1.05" />
<line x1="597.30" y1="451.20" x2="597.30" y2="456.60" stroke="#000" stroke-width="1.05" />
<line x1="621.10" y1="453.90" x2="627.30" y2="453.90" stroke="#000" stroke-width="1.05" />
<line x1="641.70" y1="453.90" x2="647.10" y2="453.90" stroke="#000" stroke-width="1.05" />
<line x1="644.40" y1="451.20" x2="644.40" y2="456.60" stroke="#000" stroke-width="1.05" />
<text x="662.60" y="457.60" font-family="Liberation Sans, sans-serif" font-size="10" fill="#111" stroke="#111" stroke-width="0.18" textLength="21.80" lengthAdjust="spacingAndGlyphs">IL-4c</text>
<line x1="573.80" y1="462.00" x2="599.10" y2="462.00" stroke="#000" stroke-width="1.15" />
<line x1="621.80" y1="462.00" x2="646.90" y2="462.00" stroke="#000" stroke-width="1.15" />
<text x="579.50" y="477.00" font-family="Liberation Sans, sans-serif" font-size="10" fill="#111" stroke="#111" stroke-width="0.18" textLength="15.00" lengthAdjust="spacingAndGlyphs">WT</text>
<text x="621.70" y="475.70" font-family="Liberation Sans, sans-serif" font-size="10" fill="#111" stroke="#111" stroke-width="0.18" font-style="italic" textLength="31.00" lengthAdjust="spacingAndGlyphs">Ptpn2-</text>
<text x="617.45" y="489.90" font-family="Liberation Sans, sans-serif" font-size="10" fill="#111" stroke="#111" stroke-width="0.18" textLength="40.30" lengthAdjust="spacingAndGlyphs">LysMCre</text>
<line x1="597.20" y1="295.10" x2="597.20" y2="301.70" stroke="#000" stroke-width="1.1" />
<line x1="600.06" y1="296.75" x2="594.34" y2="300.05" stroke="#000" stroke-width="1.1" />
<line x1="600.06" y1="300.05" x2="594.34" y2="296.75" stroke="#000" stroke-width="1.1" />
<line x1="623.40" y1="404.90" x2="623.40" y2="411.50" stroke="#000" stroke-width="1.1" />
<line x1="626.26" y1="406.55" x2="620.54" y2="409.85" stroke="#000" stroke-width="1.1" />
<line x1="626.26" y1="409.85" x2="620.54" y2="406.55" stroke="#000" stroke-width="1.1" />
<text transform="translate(11.70,120.50) rotate(-90)" x="0.00" y="0" font-family="Liberation Sans, sans-serif" font-size="11.6" fill="#000" stroke="#000" stroke-width="0.18" textLength="72.80" lengthAdjust="spacingAndGlyphs">IL-10 (pg/ml)</text>
<text transform="translate(189.80,125.00) rotate(-90)" x="0.00" y="0" font-family="Liberation Sans, sans-serif" font-size="11.6" fill="#000" stroke="#000" stroke-width="0.18" textLength="73.80" lengthAdjust="spacingAndGlyphs">TGFβ (pg/ml)</text>
<text transform="translate(340.20,149.60) rotate(-90)" x="0.00" y="0" font-family="Liberation Sans, sans-serif" font-size="11.6" fill="#000" stroke="#000" stroke-width="0.18" font-style="italic" textLength="21.90" lengthAdjust="spacingAndGlyphs">Chil3</text>
<text transform="translate(340.20,125.20) rotate(-90)" x="0.00" y="0" font-family="Liberation Sans, sans-serif" font-size="11.6" fill="#000" stroke="#000" stroke-width="0.18" textLength="105.70" lengthAdjust="spacingAndGlyphs">mRNA expression</text>
<text transform="translate(356.30,143.20) rotate(-90)" x="0.00" y="0" font-family="Liberation Sans, sans-serif" font-size="11.6" fill="#000" stroke="#000" stroke-width="0.18" textLength="75.10" lengthAdjust="spacingAndGlyphs">normalized to</text>
<text transform="translate(356.30,64.10) rotate(-90)" x="0.00" y="0" font-family="Liberation Sans, sans-serif" font-size="11.6" fill="#000" stroke="#000" stroke-width="0.18" font-style="italic" textLength="38.55" lengthAdjust="spacingAndGlyphs">Gapdh</text>
<text transform="translate(517.70,149.60) rotate(-90)" x="0.00" y="0" font-family="Liberation Sans, sans-serif" font-size="11.6" fill="#000" stroke="#000" stroke-width="0.18" font-style="italic" textLength="21.10" lengthAdjust="spacingAndGlyphs">Arg1</text>
<text transform="translate(517.70,125.70) rotate(-90)" x="0.00" y="0" font-family="Liberation Sans, sans-serif" font-size="11.6" fill="#000" stroke="#000" stroke-width="0.18" textLength="106.20" lengthAdjust="spacingAndGlyphs">mRNA expression</text>
<text transform="translate(534.00,143.20) rotate(-90)" x="0.00" y="0" font-family="Liberation Sans, sans-serif" font-size="11.6" fill="#000" stroke="#000" stroke-width="0.18" textLength="75.10" lengthAdjust="spacingAndGlyphs">normalized to</text>
<text transform="translate(534.00,64.10) rotate(-90)" x="0.00" y="0" font-family="Liberation Sans, sans-serif" font-size="11.6" fill="#000" stroke="#000" stroke-width="0.18" font-style="italic" textLength="38.55" lengthAdjust="spacingAndGlyphs">Gapdh</text>
<text transform="translate(157.00,433.50) rotate(-90)" x="0.00" y="0" font-family="Liberation Sans, sans-serif" font-size="11.6" fill="#000" stroke="#000" stroke-width="0.18" textLength="154.80" lengthAdjust="spacingAndGlyphs">Mean Fluorescnce intensity</text>
<text transform="translate(520.90,403.40) rotate(-90)" x="0.00" y="0" font-family="Liberation Sans, sans-serif" font-size="11.6" fill="#000" stroke="#000" stroke-width="0.18" textLength="94.00" lengthAdjust="spacingAndGlyphs">CD206+ cells (%)</text>
<text x="17.00" y="257.70" font-family="Liberation Sans, sans-serif" font-size="14.7" fill="#000" textLength="43.60" lengthAdjust="spacingAndGlyphs">Gated</text>
<text x="65.20" y="257.70" font-family="Liberation Sans, sans-serif" font-size="14.7" fill="#000" textLength="18.40" lengthAdjust="spacingAndGlyphs">on</text>
<text x="87.90" y="257.70" font-family="Liberation Sans, sans-serif" font-size="14.7" fill="#000" textLength="61.10" lengthAdjust="spacingAndGlyphs">CD11b+,</text>
<text x="153.40" y="257.70" font-family="Liberation Sans, sans-serif" font-size="14.7" fill="#000" textLength="47.20" lengthAdjust="spacingAndGlyphs">CD64+</text>
<text x="205.10" y="257.70" font-family="Liberation Sans, sans-serif" font-size="14.7" fill="#000" textLength="98.10" lengthAdjust="spacingAndGlyphs">macrophages</text>
<text x="375.00" y="257.60" font-family="Liberation Sans, sans-serif" font-size="14.7" fill="#000" textLength="43.60" lengthAdjust="spacingAndGlyphs">Gated</text>
<text x="423.20" y="257.60" font-family="Liberation Sans, sans-serif" font-size="14.7" fill="#000" textLength="18.40" lengthAdjust="spacingAndGlyphs">on</text>
<text x="445.90" y="257.60" font-family="Liberation Sans, sans-serif" font-size="14.7" fill="#000" textLength="61.10" lengthAdjust="spacingAndGlyphs">CD11b+,</text>
<text x="511.40" y="257.60" font-family="Liberation Sans, sans-serif" font-size="14.7" fill="#000" textLength="47.20" lengthAdjust="spacingAndGlyphs">CD64+</text>
<text x="563.10" y="257.60" font-family="Liberation Sans, sans-serif" font-size="14.7" fill="#000" textLength="98.10" lengthAdjust="spacingAndGlyphs">macrophages</text>
<path d="M38.47,352.60 L38.47,351.94 L41.71,350.67 L42.44,352.60 L43.16,327.57 L44.42,313.13 L45.05,337.63 L45.69,331.18 L47.13,322.15 L47.76,327.45 L48.39,320.35 L49.30,326.66 L51.10,304.10 L51.73,311.16 L52.36,296.88 L52.91,322.55 L53.45,310.42 L55.07,300.49 L55.43,316.15 L55.79,289.66 L56.52,278.83 L57.24,295.08 L57.78,304.10 L59.22,295.98 L59.68,301.11 L60.13,296.88 L60.58,307.81 L61.03,303.20 L61.66,309.43 L62.29,298.69 L62.65,316.10 L63.01,307.71 L63.38,325.33 L63.74,315.29 L64.64,324.20 L65.54,305.00 L65.99,322.23 L66.44,313.13 L66.90,326.97 L67.35,322.15 L68.61,315.83 L69.51,322.15 L70.42,329.73 L71.86,323.96 L72.31,333.52 L72.76,330.27 L73.21,337.04 L73.66,335.15 L75.47,325.76 L75.92,340.81 L76.37,334.79 L76.82,344.92 L77.27,340.56 L78.54,337.49 L78.99,343.67 L79.44,342.01 L80.34,345.98 L81.06,347.94 L81.79,344.71 L82.24,349.36 L82.69,348.69 L84.49,344.71 L85.40,349.23 L86.30,351.94 L88.10,349.23 L89.01,352.48 L89.01,352.60 Z" fill="rgba(255,0,0,0.6)" stroke="none"/>
<path d="M38.47,351.94 L41.71,350.67 L42.44,352.60 L43.16,327.57 L44.42,313.13 L45.05,337.63 L45.69,331.18 L47.13,322.15 L47.76,327.45 L48.39,320.35 L49.30,326.66 L51.10,304.10 L51.73,311.16 L52.36,296.88 L52.91,322.55 L53.45,310.42 L55.07,300.49 L55.43,316.15 L55.79,289.66 L56.52,278.83 L57.24,295.08 L57.78,304.10 L59.22,295.98 L59.68,301.11 L60.13,296.88 L60.58,307.81 L61.03,303.20 L61.66,309.43 L62.29,298.69 L62.65,316.10 L63.01,307.71 L63.38,325.33 L63.74,315.29 L64.64,324.20 L65.54,305.00 L65.99,322.23 L66.44,313.13 L66.90,326.97 L67.35,322.15 L68.61,315.83 L69.51,322.15 L70.42,329.73 L71.86,323.96 L72.31,333.52 L72.76,330.27 L73.21,337.04 L73.66,335.15 L75.47,325.76 L75.92,340.81 L76.37,334.79 L76.82,344.92 L77.27,340.56 L78.54,337.49 L78.99,343.67 L79.44,342.01 L80.34,345.98 L81.06,347.94 L81.79,344.71 L82.24,349.36 L82.69,348.69 L84.49,344.71 L85.40,349.23 L86.30,351.94 L88.10,349.23 L89.01,352.48 " fill="none" stroke="#f00" stroke-width="0.9" stroke-linejoin="round"/>
<path d="M39.37,392.40 L39.37,392.40 L40.81,388.94 L41.44,389.63 L42.08,384.42 L42.53,387.49 L42.98,379.91 L43.52,377.20 L44.78,381.71 L45.23,383.48 L45.69,377.20 L46.14,378.68 L46.59,374.49 L47.49,369.98 L48.03,366.37 L48.57,360.96 L48.94,357.35 L49.30,371.52 L49.66,365.47 L50.02,369.00 L50.38,359.15 L51.10,355.54 L51.64,359.15 L52.00,333.88 L52.55,350.13 L53.09,315.83 L53.63,341.10 L54.17,312.22 L54.71,339.30 L55.25,321.25 L55.61,359.88 L55.97,346.52 L56.34,356.49 L56.70,324.86 L57.06,356.46 L57.42,348.32 L58.32,326.66 L59.04,351.93 L59.40,366.72 L59.77,328.47 L60.13,362.88 L60.49,353.74 L61.21,332.08 L61.93,357.35 L62.38,371.08 L62.83,337.49 L63.29,365.66 L63.74,359.15 L64.64,364.57 L65.27,369.87 L65.90,350.13 L66.26,368.30 L66.62,364.57 L67.35,368.18 L67.98,375.15 L68.61,353.74 L69.15,366.37 L69.69,371.79 L70.32,375.65 L70.96,367.27 L71.68,371.79 L72.04,378.11 L72.40,374.49 L73.66,372.69 L74.12,377.72 L74.57,375.76 L75.47,377.20 L77.27,375.40 L77.82,379.01 L78.18,383.14 L78.54,381.71 L79.98,384.42 L81.43,382.62 L81.79,388.60 L82.15,386.23 L82.69,388.03 L83.59,389.84 L84.49,392.40 L84.49,392.40 Z" fill="rgba(255,0,0,0.2)" stroke="none"/>
<path d="M39.37,392.40 L40.81,388.94 L41.44,389.63 L42.08,384.42 L42.53,387.49 L42.98,379.91 L43.52,377.20 L44.78,381.71 L45.23,383.48 L45.69,377.20 L46.14,378.68 L46.59,374.49 L47.49,369.98 L48.03,366.37 L48.57,360.96 L48.94,357.35 L49.30,371.52 L49.66,365.47 L50.02,369.00 L50.38,359.15 L51.10,355.54 L51.64,359.15 L52.00,333.88 L52.55,350.13 L53.09,315.83 L53.63,341.10 L54.17,312.22 L54.71,339.30 L55.25,321.25 L55.61,359.88 L55.97,346.52 L56.34,356.49 L56.70,324.86 L57.06,356.46 L57.42,348.32 L58.32,326.66 L59.04,351.93 L59.40,366.72 L59.77,328.47 L60.13,362.88 L60.49,353.74 L61.21,332.08 L61.93,357.35 L62.38,371.08 L62.83,337.49 L63.29,365.66 L63.74,359.15 L64.64,364.57 L65.27,369.87 L65.90,350.13 L66.26,368.30 L66.62,364.57 L67.35,368.18 L67.98,375.15 L68.61,353.74 L69.15,366.37 L69.69,371.79 L70.32,375.65 L70.96,367.27 L71.68,371.79 L72.04,378.11 L72.40,374.49 L73.66,372.69 L74.12,377.72 L74.57,375.76 L75.47,377.20 L77.27,375.40 L77.82,379.01 L78.18,383.14 L78.54,381.71 L79.98,384.42 L81.43,382.62 L81.79,388.60 L82.15,386.23 L82.69,388.03 L83.59,389.84 L84.49,392.40 " fill="none" stroke="#f00" stroke-width="0.9" stroke-linejoin="round"/>
<path d="M39.91,430.50 L39.91,430.32 L40.81,426.71 L41.26,430.50 L41.71,422.20 L42.08,428.31 L42.44,411.37 L42.98,404.15 L43.34,420.61 L43.70,409.57 L44.06,424.34 L44.42,396.03 L44.96,404.15 L45.32,409.57 L45.87,404.15 L46.23,430.50 L46.59,416.79 L46.95,424.90 L47.31,409.57 L47.67,417.77 L48.03,405.96 L48.57,412.27 L48.94,423.74 L49.30,413.18 L49.75,426.98 L50.20,407.76 L50.65,425.01 L51.10,407.76 L51.46,419.28 L51.82,412.27 L52.18,426.99 L52.55,402.35 L52.91,420.49 L53.27,409.57 L53.81,411.37 L54.17,425.23 L54.53,406.86 L55.07,404.15 L55.52,423.14 L55.97,410.47 L56.43,429.86 L56.88,405.96 L57.24,427.22 L57.60,411.37 L57.96,420.26 L58.32,413.18 L58.77,419.92 L59.22,408.66 L59.68,423.77 L60.13,409.57 L60.58,421.48 L61.03,414.98 L61.48,425.18 L61.93,416.79 L62.38,425.16 L62.83,412.27 L63.29,418.73 L63.74,411.37 L64.19,425.37 L64.64,409.57 L65.09,425.98 L65.54,405.96 L65.99,429.37 L66.44,412.27 L66.90,423.66 L67.35,414.98 L67.80,429.34 L68.25,411.37 L68.70,422.91 L69.15,413.18 L70.05,421.30 L70.96,418.59 L71.86,420.40 L72.76,417.69 L73.21,420.86 L73.66,418.59 L74.57,419.49 L75.02,422.06 L75.47,416.79 L76.37,418.23 L77.27,414.98 L78.00,409.57 L78.54,404.15 L78.90,411.34 L79.26,405.96 L79.98,402.35 L80.34,409.83 L80.70,396.93 L81.06,404.63 L81.43,393.32 L81.88,401.83 L82.33,395.13 L82.78,399.86 L83.23,388.81 L84.13,392.42 L84.58,399.70 L85.04,390.61 L86.12,386.10 L86.66,377.08 L87.20,366.25 L87.74,356.32 L88.10,364.44 L88.47,373.47 L88.83,382.49 L89.37,388.81 L89.73,391.96 L90.09,387.91 L90.45,400.68 L90.81,392.42 L91.17,401.74 L91.53,397.83 L92.26,400.54 L93.16,395.13 L93.52,410.57 L93.88,402.35 L94.42,407.76 L94.78,416.64 L95.14,412.27 L95.51,419.51 L95.87,416.79 L96.59,418.59 L97.13,420.40 L98.03,424.01 L98.94,426.71 L99.84,429.06 L100.74,430.32 L100.74,430.50 Z" fill="rgba(0,0,0,0.67)" stroke="none"/>
<path d="M39.91,430.32 L40.81,426.71 L41.26,430.50 L41.71,422.20 L42.08,428.31 L42.44,411.37 L42.98,404.15 L43.34,420.61 L43.70,409.57 L44.06,424.34 L44.42,396.03 L44.96,404.15 L45.32,409.57 L45.87,404.15 L46.23,430.50 L46.59,416.79 L46.95,424.90 L47.31,409.57 L47.67,417.77 L48.03,405.96 L48.57,412.27 L48.94,423.74 L49.30,413.18 L49.75,426.98 L50.20,407.76 L50.65,425.01 L51.10,407.76 L51.46,419.28 L51.82,412.27 L52.18,426.99 L52.55,402.35 L52.91,420.49 L53.27,409.57 L53.81,411.37 L54.17,425.23 L54.53,406.86 L55.07,404.15 L55.52,423.14 L55.97,410.47 L56.43,429.86 L56.88,405.96 L57.24,427.22 L57.60,411.37 L57.96,420.26 L58.32,413.18 L58.77,419.92 L59.22,408.66 L59.68,423.77 L60.13,409.57 L60.58,421.48 L61.03,414.98 L61.48,425.18 L61.93,416.79 L62.38,425.16 L62.83,412.27 L63.29,418.73 L63.74,411.37 L64.19,425.37 L64.64,409.57 L65.09,425.98 L65.54,405.96 L65.99,429.37 L66.44,412.27 L66.90,423.66 L67.35,414.98 L67.80,429.34 L68.25,411.37 L68.70,422.91 L69.15,413.18 L70.05,421.30 L70.96,418.59 L71.86,420.40 L72.76,417.69 L73.21,420.86 L73.66,418.59 L74.57,419.49 L75.02,422.06 L75.47,416.79 L76.37,418.23 L77.27,414.98 L78.00,409.57 L78.54,404.15 L78.90,411.34 L79.26,405.96 L79.98,402.35 L80.34,409.83 L80.70,396.93 L81.06,404.63 L81.43,393.32 L81.88,401.83 L82.33,395.13 L82.78,399.86 L83.23,388.81 L84.13,392.42 L84.58,399.70 L85.04,390.61 L86.12,386.10 L86.66,377.08 L87.20,366.25 L87.74,356.32 L88.10,364.44 L88.47,373.47 L88.83,382.49 L89.37,388.81 L89.73,391.96 L90.09,387.91 L90.45,400.68 L90.81,392.42 L91.17,401.74 L91.53,397.83 L92.26,400.54 L93.16,395.13 L93.52,410.57 L93.88,402.35 L94.42,407.76 L94.78,416.64 L95.14,412.27 L95.51,419.51 L95.87,416.79 L96.59,418.59 L97.13,420.40 L98.03,424.01 L98.94,426.71 L99.84,429.06 L100.74,430.32 " fill="none" stroke="#000" stroke-width="0.9" stroke-linejoin="round"/>
<path d="M38.47,469.20 L38.47,468.65 L39.55,467.92 L40.27,467.20 L40.63,469.15 L40.99,458.18 L41.35,460.11 L41.71,449.15 L42.08,440.13 L42.44,432.91 L42.98,422.08 L43.52,414.86 L43.88,429.00 L44.24,423.88 L44.78,416.66 L45.32,427.49 L45.69,430.18 L46.05,420.27 L46.41,436.52 L46.77,436.52 L47.31,443.74 L47.85,431.10 L48.21,431.10 L48.57,416.66 L48.94,429.00 L49.30,425.69 L49.66,429.00 L50.02,413.05 L50.38,429.00 L50.74,422.08 L51.10,429.95 L51.46,411.25 L51.82,429.00 L52.18,420.27 L52.55,433.40 L52.91,409.44 L53.27,429.00 L53.63,418.47 L53.99,429.00 L54.35,411.25 L54.71,429.08 L55.07,422.08 L55.43,430.91 L55.79,413.05 L56.16,429.00 L56.52,420.27 L56.97,429.00 L57.42,412.15 L57.87,435.53 L58.32,422.08 L58.77,429.00 L59.22,414.86 L59.68,429.00 L60.13,423.88 L60.58,429.00 L61.03,416.66 L61.48,429.00 L61.93,425.69 L62.38,429.00 L62.83,418.47 L63.29,435.30 L63.74,427.49 L64.19,429.00 L64.64,420.27 L65.09,429.00 L65.54,428.39 L65.99,432.09 L66.44,423.88 L66.90,430.56 L67.35,430.56 L67.80,444.93 L68.25,436.52 L68.70,447.19 L69.15,440.13 L69.60,444.81 L70.05,433.81 L70.96,443.74 L71.32,446.61 L71.68,440.13 L72.04,446.91 L72.40,441.03 L73.12,446.44 L73.66,449.15 L74.39,445.54 L74.93,442.83 L75.65,449.15 L76.01,457.63 L76.37,452.76 L76.73,455.00 L77.09,449.15 L77.45,451.87 L77.82,447.35 L78.54,444.64 L79.08,441.03 L79.62,449.15 L79.98,454.57 L80.70,450.96 L81.06,455.44 L81.43,449.15 L82.15,454.57 L82.69,458.18 L83.05,460.23 L83.41,454.57 L83.95,452.76 L84.68,458.18 L85.40,461.79 L85.76,464.07 L86.12,459.08 L86.84,458.18 L87.20,464.62 L87.56,462.69 L88.10,464.49 L88.47,465.50 L88.83,463.23 L89.37,462.69 L89.73,466.58 L90.09,465.40 L90.81,467.20 L91.71,466.48 L92.62,466.30 L93.52,468.65 L93.52,469.20 Z" fill="rgba(0,0,0,0.2)" stroke="none"/>
<path d="M38.47,468.65 L39.55,467.92 L40.27,467.20 L40.63,469.15 L40.99,458.18 L41.35,460.11 L41.71,449.15 L42.08,440.13 L42.44,432.91 L42.98,422.08 L43.52,414.86 L43.88,429.00 L44.24,423.88 L44.78,416.66 L45.32,427.49 L45.69,430.18 L46.05,420.27 L46.41,436.52 L46.77,436.52 L47.31,443.74 L47.85,431.10 L48.21,431.10 L48.57,416.66 L48.94,429.00 L49.30,425.69 L49.66,429.00 L50.02,413.05 L50.38,429.00 L50.74,422.08 L51.10,429.95 L51.46,411.25 L51.82,429.00 L52.18,420.27 L52.55,433.40 L52.91,409.44 L53.27,429.00 L53.63,418.47 L53.99,429.00 L54.35,411.25 L54.71,429.08 L55.07,422.08 L55.43,430.91 L55.79,413.05 L56.16,429.00 L56.52,420.27 L56.97,429.00 L57.42,412.15 L57.87,435.53 L58.32,422.08 L58.77,429.00 L59.22,414.86 L59.68,429.00 L60.13,423.88 L60.58,429.00 L61.03,416.66 L61.48,429.00 L61.93,425.69 L62.38,429.00 L62.83,418.47 L63.29,435.30 L63.74,427.49 L64.19,429.00 L64.64,420.27 L65.09,429.00 L65.54,428.39 L65.99,432.09 L66.44,423.88 L66.90,430.56 L67.35,430.56 L67.80,444.93 L68.25,436.52 L68.70,447.19 L69.15,440.13 L69.60,444.81 L70.05,433.81 L70.96,443.74 L71.32,446.61 L71.68,440.13 L72.04,446.91 L72.40,441.03 L73.12,446.44 L73.66,449.15 L74.39,445.54 L74.93,442.83 L75.65,449.15 L76.01,457.63 L76.37,452.76 L76.73,455.00 L77.09,449.15 L77.45,451.87 L77.82,447.35 L78.54,444.64 L79.08,441.03 L79.62,449.15 L79.98,454.57 L80.70,450.96 L81.06,455.44 L81.43,449.15 L82.15,454.57 L82.69,458.18 L83.05,460.23 L83.41,454.57 L83.95,452.76 L84.68,458.18 L85.40,461.79 L85.76,464.07 L86.12,459.08 L86.84,458.18 L87.20,464.62 L87.56,462.69 L88.10,464.49 L88.47,465.50 L88.83,463.23 L89.37,462.69 L89.73,466.58 L90.09,465.40 L90.81,467.20 L91.71,466.48 L92.62,466.30 L93.52,468.65 " fill="none" stroke="#000" stroke-width="0.9" stroke-linejoin="round"/>
<line x1="19.00" y1="352.60" x2="130.60" y2="352.60" stroke="#ffa4a4" stroke-width="1.2" />
<line x1="19.00" y1="392.40" x2="130.60" y2="392.40" stroke="#ffa4a4" stroke-width="1.2" />
<line x1="19.00" y1="430.50" x2="130.60" y2="430.50" stroke="#b0b0b0" stroke-width="1.3" />
<rect x="19.00" y="272.40" width="111.60" height="196.80" fill="none" stroke="#666" stroke-width="0.7"/>
<line x1="18.70" y1="469.20" x2="130.90" y2="469.20" stroke="#111" stroke-width="0.9" />
<text x="91.00" y="338.50" font-family="Liberation Sans, sans-serif" font-size="8.7" fill="#f11" stroke="#f11" stroke-width="0.18" textLength="38.20" lengthAdjust="spacingAndGlyphs">LysM IL-4c</text>
<text x="97.90" y="376.50" font-family="Liberation Sans, sans-serif" font-size="8.7" fill="#f11" stroke="#f11" stroke-width="0.18" textLength="31.00" lengthAdjust="spacingAndGlyphs">LysM Ctr</text>
<text x="97.90" y="413.30" font-family="Liberation Sans, sans-serif" font-size="8.7" fill="#222" stroke="#222" stroke-width="0.18" textLength="31.00" lengthAdjust="spacingAndGlyphs">WT IL-4c</text>
<text x="104.30" y="457.00" font-family="Liberation Sans, sans-serif" font-size="8.7" fill="#222" stroke="#222" stroke-width="0.18" textLength="24.60" lengthAdjust="spacingAndGlyphs">WT Ctr</text>
<line x1="25.50" y1="468.00" x2="25.50" y2="470.50" stroke="#222" stroke-width="0.45" />
<line x1="27.60" y1="468.00" x2="27.60" y2="470.50" stroke="#222" stroke-width="0.45" />
<line x1="29.70" y1="468.00" x2="29.70" y2="470.50" stroke="#222" stroke-width="0.45" />
<line x1="31.80" y1="468.00" x2="31.80" y2="470.50" stroke="#222" stroke-width="0.45" />
<line x1="33.90" y1="468.00" x2="33.90" y2="470.50" stroke="#222" stroke-width="0.45" />
<line x1="36.00" y1="468.00" x2="36.00" y2="470.50" stroke="#222" stroke-width="0.45" />
<line x1="38.10" y1="468.00" x2="38.10" y2="470.50" stroke="#222" stroke-width="0.45" />
<line x1="40.20" y1="468.00" x2="40.20" y2="470.50" stroke="#222" stroke-width="0.45" />
<line x1="42.30" y1="468.00" x2="42.30" y2="470.50" stroke="#222" stroke-width="0.45" />
<line x1="44.40" y1="468.00" x2="44.40" y2="470.50" stroke="#222" stroke-width="0.45" />
<line x1="46.50" y1="468.00" x2="46.50" y2="470.50" stroke="#222" stroke-width="0.45" />
<line x1="48.60" y1="468.00" x2="48.60" y2="470.50" stroke="#222" stroke-width="0.45" />
<line x1="50.70" y1="468.00" x2="50.70" y2="470.50" stroke="#222" stroke-width="0.45" />
<line x1="52.80" y1="468.00" x2="52.80" y2="470.50" stroke="#222" stroke-width="0.45" />
<line x1="54.90" y1="468.00" x2="54.90" y2="470.50" stroke="#222" stroke-width="0.45" />
<line x1="57.00" y1="468.00" x2="57.00" y2="470.50" stroke="#222" stroke-width="0.45" />
<line x1="59.10" y1="468.00" x2="59.10" y2="470.50" stroke="#222" stroke-width="0.45" />
<line x1="61.20" y1="468.00" x2="61.20" y2="470.50" stroke="#222" stroke-width="0.45" />
<line x1="63.30" y1="468.00" x2="63.30" y2="470.50" stroke="#222" stroke-width="0.45" />
<line x1="65.40" y1="468.00" x2="65.40" y2="470.50" stroke="#222" stroke-width="0.45" />
<line x1="67.50" y1="468.00" x2="67.50" y2="470.50" stroke="#222" stroke-width="0.45" />
<line x1="69.60" y1="468.00" x2="69.60" y2="470.50" stroke="#222" stroke-width="0.45" />
<line x1="71.70" y1="468.00" x2="71.70" y2="470.50" stroke="#222" stroke-width="0.45" />
<line x1="73.80" y1="468.00" x2="73.80" y2="470.50" stroke="#222" stroke-width="0.45" />
<line x1="75.90" y1="468.00" x2="75.90" y2="470.50" stroke="#222" stroke-width="0.45" />
<line x1="78.00" y1="468.00" x2="78.00" y2="470.50" stroke="#222" stroke-width="0.45" />
<line x1="80.10" y1="468.00" x2="80.10" y2="470.50" stroke="#222" stroke-width="0.45" />
<line x1="82.20" y1="468.00" x2="82.20" y2="470.50" stroke="#222" stroke-width="0.45" />
<line x1="84.30" y1="468.00" x2="84.30" y2="470.50" stroke="#222" stroke-width="0.45" />
<line x1="86.40" y1="468.00" x2="86.40" y2="470.50" stroke="#222" stroke-width="0.45" />
<line x1="88.50" y1="468.00" x2="88.50" y2="470.50" stroke="#222" stroke-width="0.45" />
<line x1="90.60" y1="468.00" x2="90.60" y2="470.50" stroke="#222" stroke-width="0.45" />
<line x1="92.70" y1="468.00" x2="92.70" y2="470.50" stroke="#222" stroke-width="0.45" />
<line x1="94.80" y1="468.00" x2="94.80" y2="470.50" stroke="#222" stroke-width="0.45" />
<line x1="96.90" y1="468.00" x2="96.90" y2="470.50" stroke="#222" stroke-width="0.45" />
<line x1="99.00" y1="468.00" x2="99.00" y2="470.50" stroke="#222" stroke-width="0.45" />
<line x1="101.10" y1="468.00" x2="101.10" y2="470.50" stroke="#222" stroke-width="0.45" />
<line x1="103.20" y1="468.00" x2="103.20" y2="470.50" stroke="#222" stroke-width="0.45" />
<line x1="105.30" y1="468.00" x2="105.30" y2="470.50" stroke="#222" stroke-width="0.45" />
<line x1="107.40" y1="468.00" x2="107.40" y2="470.50" stroke="#222" stroke-width="0.45" />
<line x1="109.50" y1="468.00" x2="109.50" y2="470.50" stroke="#222" stroke-width="0.45" />
<line x1="111.60" y1="468.00" x2="111.60" y2="470.50" stroke="#222" stroke-width="0.45" />
<line x1="113.70" y1="468.00" x2="113.70" y2="470.50" stroke="#222" stroke-width="0.45" />
<line x1="115.80" y1="468.00" x2="115.80" y2="470.50" stroke="#222" stroke-width="0.45" />
<line x1="117.90" y1="468.00" x2="117.90" y2="470.50" stroke="#222" stroke-width="0.45" />
<line x1="120.00" y1="468.00" x2="120.00" y2="470.50" stroke="#222" stroke-width="0.45" />
<line x1="122.10" y1="468.00" x2="122.10" y2="470.50" stroke="#222" stroke-width="0.45" />
<line x1="124.20" y1="468.00" x2="124.20" y2="470.50" stroke="#222" stroke-width="0.45" />
<line x1="126.30" y1="468.00" x2="126.30" y2="470.50" stroke="#222" stroke-width="0.45" />
<line x1="128.40" y1="468.00" x2="128.40" y2="470.50" stroke="#222" stroke-width="0.45" />
<line x1="28.50" y1="467.60" x2="28.50" y2="471.20" stroke="#111" stroke-width="0.7" />
<line x1="46.00" y1="467.60" x2="46.00" y2="471.20" stroke="#111" stroke-width="0.7" />
<line x1="66.10" y1="467.60" x2="66.10" y2="471.20" stroke="#111" stroke-width="0.7" />
<line x1="94.40" y1="467.60" x2="94.40" y2="471.20" stroke="#111" stroke-width="0.7" />
<line x1="122.90" y1="467.60" x2="122.90" y2="471.20" stroke="#111" stroke-width="0.7" />
<text x="28.90" y="478.50" font-family="Liberation Sans, sans-serif" font-size="5.0" fill="#444" text-anchor="middle">-10<tspan dy="-1.8" font-size="3.6">3</tspan></text>
<text x="46.00" y="478.50" font-family="Liberation Sans, sans-serif" font-size="5.0" fill="#444" text-anchor="middle">0</text>
<text x="66.10" y="478.50" font-family="Liberation Sans, sans-serif" font-size="5.0" fill="#444" text-anchor="middle">10<tspan dy="-1.8" font-size="3.6">3</tspan></text>
<text x="95.60" y="478.50" font-family="Liberation Sans, sans-serif" font-size="5.0" fill="#444" text-anchor="middle">10<tspan dy="-1.8" font-size="3.6">4</tspan></text>
<text x="123.70" y="478.50" font-family="Liberation Sans, sans-serif" font-size="5.0" fill="#444" text-anchor="middle">10<tspan dy="-1.8" font-size="3.6">5</tspan></text>
<text x="48.60" y="491.50" font-family="Liberation Sans, sans-serif" font-size="14.2" fill="#000" textLength="51.00" lengthAdjust="spacingAndGlyphs">pSTAT6</text>
<path d="M408.00,352.60 L408.00,352.48 L408.64,352.60 L409.27,347.42 L409.99,348.69 L410.71,343.81 L411.61,339.30 L412.52,342.91 L413.24,345.34 L413.96,340.20 L414.59,344.13 L415.22,329.37 L415.68,335.49 L416.13,327.57 L417.03,332.98 L417.66,337.20 L418.29,325.76 L418.83,330.33 L419.38,322.15 L420.10,316.74 L421.18,309.52 L421.63,316.48 L422.08,298.69 L422.44,310.88 L422.81,286.05 L423.71,291.47 L424.16,306.55 L424.61,281.54 L424.97,289.47 L425.33,278.47 L425.87,287.86 L426.23,301.23 L426.60,284.25 L427.14,295.08 L427.50,311.92 L427.86,304.10 L428.76,313.13 L429.21,321.53 L429.66,311.32 L430.12,328.92 L430.57,322.15 L431.02,330.84 L431.47,327.57 L432.10,331.61 L432.73,325.76 L433.18,338.72 L433.64,334.79 L434.09,336.76 L434.54,332.98 L434.99,343.84 L435.44,340.20 L436.34,342.01 L436.88,349.81 L437.43,347.42 L438.69,346.52 L439.59,351.39 L441.04,350.13 L441.76,352.48 L441.76,352.60 Z" fill="rgba(255,0,0,0.6)" stroke="none"/>
<path d="M408.00,352.48 L408.64,352.60 L409.27,347.42 L409.99,348.69 L410.71,343.81 L411.61,339.30 L412.52,342.91 L413.24,345.34 L413.96,340.20 L414.59,344.13 L415.22,329.37 L415.68,335.49 L416.13,327.57 L417.03,332.98 L417.66,337.20 L418.29,325.76 L418.83,330.33 L419.38,322.15 L420.10,316.74 L421.18,309.52 L421.63,316.48 L422.08,298.69 L422.44,310.88 L422.81,286.05 L423.71,291.47 L424.16,306.55 L424.61,281.54 L424.97,289.47 L425.33,278.47 L425.87,287.86 L426.23,301.23 L426.60,284.25 L427.14,295.08 L427.50,311.92 L427.86,304.10 L428.76,313.13 L429.21,321.53 L429.66,311.32 L430.12,328.92 L430.57,322.15 L431.02,330.84 L431.47,327.57 L432.10,331.61 L432.73,325.76 L433.18,338.72 L433.64,334.79 L434.09,336.76 L434.54,332.98 L434.99,343.84 L435.44,340.20 L436.34,342.01 L436.88,349.81 L437.43,347.42 L438.69,346.52 L439.59,351.39 L441.04,350.13 L441.76,352.48 " fill="none" stroke="#f00" stroke-width="0.9" stroke-linejoin="round"/>
<path d="M403.49,392.40 L403.49,392.40 L403.94,392.40 L404.39,384.42 L405.30,380.81 L406.20,386.23 L406.65,387.49 L407.10,382.62 L408.36,389.84 L409.09,391.39 L409.81,386.23 L411.07,388.94 L411.61,389.85 L412.16,384.42 L413.42,377.20 L414.05,382.17 L414.68,380.81 L415.77,373.59 L416.40,379.17 L417.03,366.37 L417.48,371.18 L417.93,359.15 L418.83,352.83 L419.29,357.80 L419.74,346.52 L420.64,350.13 L421.54,341.10 L422.44,344.71 L422.90,354.25 L423.35,333.88 L424.25,328.47 L424.70,348.18 L425.15,335.69 L425.60,340.80 L426.05,332.08 L426.51,345.85 L426.96,341.10 L427.86,339.30 L428.31,357.58 L428.76,348.32 L429.21,357.47 L429.66,352.83 L430.21,359.15 L430.57,373.79 L430.93,366.37 L432.01,373.59 L433.27,380.81 L433.73,386.29 L434.18,385.32 L435.62,388.03 L436.25,391.66 L436.88,390.74 L437.52,391.42 L438.15,388.03 L438.87,391.93 L439.59,391.28 L441.04,388.94 L442.30,391.64 L444.10,389.84 L445.37,392.40 L450.42,392.40 L451.32,389.84 L452.59,392.40 L459.45,392.40 L460.71,389.84 L461.79,392.40 L463.06,389.84 L463.96,392.40 L463.96,392.40 Z" fill="rgba(255,0,0,0.2)" stroke="none"/>
<path d="M403.49,392.40 L403.94,392.40 L404.39,384.42 L405.30,380.81 L406.20,386.23 L406.65,387.49 L407.10,382.62 L408.36,389.84 L409.09,391.39 L409.81,386.23 L411.07,388.94 L411.61,389.85 L412.16,384.42 L413.42,377.20 L414.05,382.17 L414.68,380.81 L415.77,373.59 L416.40,379.17 L417.03,366.37 L417.48,371.18 L417.93,359.15 L418.83,352.83 L419.29,357.80 L419.74,346.52 L420.64,350.13 L421.54,341.10 L422.44,344.71 L422.90,354.25 L423.35,333.88 L424.25,328.47 L424.70,348.18 L425.15,335.69 L425.60,340.80 L426.05,332.08 L426.51,345.85 L426.96,341.10 L427.86,339.30 L428.31,357.58 L428.76,348.32 L429.21,357.47 L429.66,352.83 L430.21,359.15 L430.57,373.79 L430.93,366.37 L432.01,373.59 L433.27,380.81 L433.73,386.29 L434.18,385.32 L435.62,388.03 L436.25,391.66 L436.88,390.74 L437.52,391.42 L438.15,388.03 L438.87,391.93 L439.59,391.28 L441.04,388.94 L442.30,391.64 L444.10,389.84 L445.37,392.40 L450.42,392.40 L451.32,389.84 L452.59,392.40 L459.45,392.40 L460.71,389.84 L461.79,392.40 L463.06,389.84 L463.96,392.40 " fill="none" stroke="#f00" stroke-width="0.9" stroke-linejoin="round"/>
<path d="M398.08,430.50 L398.08,430.32 L398.98,426.71 L399.88,429.42 L402.59,429.78 L404.39,429.06 L406.20,429.42 L408.00,425.81 L408.64,427.10 L409.27,424.01 L410.35,422.20 L410.98,424.38 L411.61,423.10 L412.88,419.49 L413.60,420.96 L414.32,416.79 L414.77,420.84 L415.22,418.59 L415.68,423.04 L416.13,411.37 L417.03,404.15 L417.57,409.57 L418.29,399.64 L419.01,405.96 L419.74,400.54 L420.19,406.91 L420.64,395.13 L421.09,406.18 L421.54,386.10 L422.08,377.08 L422.81,373.47 L423.17,392.34 L423.53,378.88 L424.25,369.86 L425.15,357.22 L425.69,366.25 L426.23,373.47 L426.96,369.86 L427.50,380.69 L427.86,397.73 L428.22,386.10 L429.12,384.30 L429.84,393.32 L430.57,398.74 L431.47,404.15 L431.92,416.70 L432.37,411.37 L432.82,419.34 L433.27,416.79 L433.73,423.22 L434.18,422.20 L434.63,427.36 L435.08,425.81 L435.98,424.01 L436.43,426.02 L436.88,422.20 L437.79,418.59 L438.24,421.90 L438.69,413.18 L439.59,409.57 L440.04,413.31 L440.49,404.15 L441.40,398.74 L442.30,395.13 L443.20,390.61 L443.92,398.74 L444.65,395.13 L445.01,410.62 L445.37,404.15 L446.09,402.35 L446.45,413.63 L446.81,409.57 L447.26,412.20 L447.71,405.96 L448.17,415.38 L448.62,413.18 L449.07,417.67 L449.52,411.37 L450.42,417.69 L451.05,421.74 L451.69,418.59 L452.59,422.20 L453.67,423.10 L454.94,426.71 L456.20,428.52 L457.64,430.32 L457.64,430.50 Z" fill="rgba(0,0,0,0.67)" stroke="none"/>
<path d="M398.08,430.32 L398.98,426.71 L399.88,429.42 L402.59,429.78 L404.39,429.06 L406.20,429.42 L408.00,425.81 L408.64,427.10 L409.27,424.01 L410.35,422.20 L410.98,424.38 L411.61,423.10 L412.88,419.49 L413.60,420.96 L414.32,416.79 L414.77,420.84 L415.22,418.59 L415.68,423.04 L416.13,411.37 L417.03,404.15 L417.57,409.57 L418.29,399.64 L419.01,405.96 L419.74,400.54 L420.19,406.91 L420.64,395.13 L421.09,406.18 L421.54,386.10 L422.08,377.08 L422.81,373.47 L423.17,392.34 L423.53,378.88 L424.25,369.86 L425.15,357.22 L425.69,366.25 L426.23,373.47 L426.96,369.86 L427.50,380.69 L427.86,397.73 L428.22,386.10 L429.12,384.30 L429.84,393.32 L430.57,398.74 L431.47,404.15 L431.92,416.70 L432.37,411.37 L432.82,419.34 L433.27,416.79 L433.73,423.22 L434.18,422.20 L434.63,427.36 L435.08,425.81 L435.98,424.01 L436.43,426.02 L436.88,422.20 L437.79,418.59 L438.24,421.90 L438.69,413.18 L439.59,409.57 L440.04,413.31 L440.49,404.15 L441.40,398.74 L442.30,395.13 L443.20,390.61 L443.92,398.74 L444.65,395.13 L445.01,410.62 L445.37,404.15 L446.09,402.35 L446.45,413.63 L446.81,409.57 L447.26,412.20 L447.71,405.96 L448.17,415.38 L448.62,413.18 L449.07,417.67 L449.52,411.37 L450.42,417.69 L451.05,421.74 L451.69,418.59 L452.59,422.20 L453.67,423.10 L454.94,426.71 L456.20,428.52 L457.64,430.32 " fill="none" stroke="#000" stroke-width="0.9" stroke-linejoin="round"/>
<path d="M408.91,469.20 L408.91,468.65 L410.35,466.30 L411.61,463.59 L412.25,465.41 L412.88,459.08 L413.96,464.49 L414.41,467.13 L414.86,458.18 L415.31,463.52 L415.77,461.79 L416.13,464.44 L416.49,452.76 L417.21,445.54 L417.57,456.69 L417.93,450.96 L418.29,455.81 L418.65,440.13 L419.38,432.91 L419.74,437.68 L420.10,430.56 L420.82,423.88 L421.54,427.49 L421.90,437.69 L422.26,418.47 L422.62,425.86 L422.99,422.08 L423.35,426.55 L423.71,413.05 L424.07,428.33 L424.43,416.66 L424.79,429.56 L425.15,413.95 L425.87,420.27 L426.23,437.92 L426.60,425.69 L427.32,430.56 L427.68,445.60 L428.04,436.52 L428.40,445.29 L428.76,440.13 L429.48,449.15 L429.84,457.90 L430.21,454.57 L431.11,458.18 L432.01,457.27 L432.46,463.84 L432.91,460.88 L433.82,459.98 L434.72,463.59 L435.17,464.79 L435.62,462.69 L436.07,467.01 L436.52,466.30 L437.43,467.20 L437.88,467.99 L438.33,464.49 L438.78,465.62 L439.23,461.79 L439.95,466.30 L441.04,465.40 L441.49,466.07 L441.94,463.59 L442.84,466.30 L443.29,467.57 L443.74,463.23 L444.19,466.90 L444.65,465.40 L445.55,464.49 L446.45,467.20 L447.35,466.30 L447.81,466.82 L448.26,463.59 L449.16,467.20 L450.06,468.10 L451.32,465.40 L452.23,464.49 L452.77,460.88 L453.49,466.30 L454.39,467.20 L455.48,466.30 L456.74,468.65 L456.74,469.20 Z" fill="rgba(0,0,0,0.2)" stroke="none"/>
<path d="M408.91,468.65 L410.35,466.30 L411.61,463.59 L412.25,465.41 L412.88,459.08 L413.96,464.49 L414.41,467.13 L414.86,458.18 L415.31,463.52 L415.77,461.79 L416.13,464.44 L416.49,452.76 L417.21,445.54 L417.57,456.69 L417.93,450.96 L418.29,455.81 L418.65,440.13 L419.38,432.91 L419.74,437.68 L420.10,430.56 L420.82,423.88 L421.54,427.49 L421.90,437.69 L422.26,418.47 L422.62,425.86 L422.99,422.08 L423.35,426.55 L423.71,413.05 L424.07,428.33 L424.43,416.66 L424.79,429.56 L425.15,413.95 L425.87,420.27 L426.23,437.92 L426.60,425.69 L427.32,430.56 L427.68,445.60 L428.04,436.52 L428.40,445.29 L428.76,440.13 L429.48,449.15 L429.84,457.90 L430.21,454.57 L431.11,458.18 L432.01,457.27 L432.46,463.84 L432.91,460.88 L433.82,459.98 L434.72,463.59 L435.17,464.79 L435.62,462.69 L436.07,467.01 L436.52,466.30 L437.43,467.20 L437.88,467.99 L438.33,464.49 L438.78,465.62 L439.23,461.79 L439.95,466.30 L441.04,465.40 L441.49,466.07 L441.94,463.59 L442.84,466.30 L443.29,467.57 L443.74,463.23 L444.19,466.90 L444.65,465.40 L445.55,464.49 L446.45,467.20 L447.35,466.30 L447.81,466.82 L448.26,463.59 L449.16,467.20 L450.06,468.10 L451.32,465.40 L452.23,464.49 L452.77,460.88 L453.49,466.30 L454.39,467.20 L455.48,466.30 L456.74,468.65 " fill="none" stroke="#000" stroke-width="0.9" stroke-linejoin="round"/>
<line x1="375.00" y1="352.60" x2="486.50" y2="352.60" stroke="#ffa4a4" stroke-width="1.2" />
<line x1="375.00" y1="392.40" x2="486.50" y2="392.40" stroke="#ffa4a4" stroke-width="1.2" />
<line x1="375.00" y1="430.50" x2="486.50" y2="430.50" stroke="#b0b0b0" stroke-width="1.3" />
<rect x="375.00" y="272.40" width="111.50" height="196.80" fill="none" stroke="#666" stroke-width="0.7"/>
<line x1="374.70" y1="469.20" x2="486.80" y2="469.20" stroke="#111" stroke-width="0.9" />
<line x1="436.30" y1="275.20" x2="436.30" y2="469.00" stroke="#111" stroke-width="1.7" stroke-dasharray="6.3 4.0"/>
<text x="447.60" y="338.50" font-family="Liberation Sans, sans-serif" font-size="8.7" fill="#f11" stroke="#f11" stroke-width="0.18" textLength="37.60" lengthAdjust="spacingAndGlyphs">LysM IL-4c</text>
<text x="453.90" y="376.50" font-family="Liberation Sans, sans-serif" font-size="8.7" fill="#f11" stroke="#f11" stroke-width="0.18" textLength="31.00" lengthAdjust="spacingAndGlyphs">LysM Ctr</text>
<text x="454.30" y="413.30" font-family="Liberation Sans, sans-serif" font-size="8.7" fill="#222" stroke="#222" stroke-width="0.18" textLength="30.80" lengthAdjust="spacingAndGlyphs">WT IL-4c</text>
<text x="460.70" y="457.00" font-family="Liberation Sans, sans-serif" font-size="8.7" fill="#222" stroke="#222" stroke-width="0.18" textLength="24.20" lengthAdjust="spacingAndGlyphs">WT Ctr</text>
<line x1="381.50" y1="468.00" x2="381.50" y2="470.50" stroke="#222" stroke-width="0.45" />
<line x1="383.60" y1="468.00" x2="383.60" y2="470.50" stroke="#222" stroke-width="0.45" />
<line x1="385.70" y1="468.00" x2="385.70" y2="470.50" stroke="#222" stroke-width="0.45" />
<line x1="387.80" y1="468.00" x2="387.80" y2="470.50" stroke="#222" stroke-width="0.45" />
<line x1="389.90" y1="468.00" x2="389.90" y2="470.50" stroke="#222" stroke-width="0.45" />
<line x1="392.00" y1="468.00" x2="392.00" y2="470.50" stroke="#222" stroke-width="0.45" />
<line x1="394.10" y1="468.00" x2="394.10" y2="470.50" stroke="#222" stroke-width="0.45" />
<line x1="396.20" y1="468.00" x2="396.20" y2="470.50" stroke="#222" stroke-width="0.45" />
<line x1="398.30" y1="468.00" x2="398.30" y2="470.50" stroke="#222" stroke-width="0.45" />
<line x1="400.40" y1="468.00" x2="400.40" y2="470.50" stroke="#222" stroke-width="0.45" />
<line x1="402.50" y1="468.00" x2="402.50" y2="470.50" stroke="#222" stroke-width="0.45" />
<line x1="404.60" y1="468.00" x2="404.60" y2="470.50" stroke="#222" stroke-width="0.45" />
<line x1="406.70" y1="468.00" x2="406.70" y2="470.50" stroke="#222" stroke-width="0.45" />
<line x1="408.80" y1="468.00" x2="408.80" y2="470.50" stroke="#222" stroke-width="0.45" />
<line x1="410.90" y1="468.00" x2="410.90" y2="470.50" stroke="#222" stroke-width="0.45" />
<line x1="413.00" y1="468.00" x2="413.00" y2="470.50" stroke="#222" stroke-width="0.45" />
<line x1="415.10" y1="468.00" x2="415.10" y2="470.50" stroke="#222" stroke-width="0.45" />
<line x1="417.20" y1="468.00" x2="417.20" y2="470.50" stroke="#222" stroke-width="0.45" />
<line x1="419.30" y1="468.00" x2="419.30" y2="470.50" stroke="#222" stroke-width="0.45" />
<line x1="421.40" y1="468.00" x2="421.40" y2="470.50" stroke="#222" stroke-width="0.45" />
<line x1="423.50" y1="468.00" x2="423.50" y2="470.50" stroke="#222" stroke-width="0.45" />
<line x1="425.60" y1="468.00" x2="425.60" y2="470.50" stroke="#222" stroke-width="0.45" />
<line x1="427.70" y1="468.00" x2="427.70" y2="470.50" stroke="#222" stroke-width="0.45" />
<line x1="429.80" y1="468.00" x2="429.80" y2="470.50" stroke="#222" stroke-width="0.45" />
<line x1="431.90" y1="468.00" x2="431.90" y2="470.50" stroke="#222" stroke-width="0.45" />
<line x1="434.00" y1="468.00" x2="434.00" y2="470.50" stroke="#222" stroke-width="0.45" />
<line x1="436.10" y1="468.00" x2="436.10" y2="470.50" stroke="#222" stroke-width="0.45" />
<line x1="438.20" y1="468.00" x2="438.20" y2="470.50" stroke="#222" stroke-width="0.45" />
<line x1="440.30" y1="468.00" x2="440.30" y2="470.50" stroke="#222" stroke-width="0.45" />
<line x1="442.40" y1="468.00" x2="442.40" y2="470.50" stroke="#222" stroke-width="0.45" />
<line x1="444.50" y1="468.00" x2="444.50" y2="470.50" stroke="#222" stroke-width="0.45" />
<line x1="446.60" y1="468.00" x2="446.60" y2="470.50" stroke="#222" stroke-width="0.45" />
<line x1="448.70" y1="468.00" x2="448.70" y2="470.50" stroke="#222" stroke-width="0.45" />
<line x1="450.80" y1="468.00" x2="450.80" y2="470.50" stroke="#222" stroke-width="0.45" />
<line x1="452.90" y1="468.00" x2="452.90" y2="470.50" stroke="#222" stroke-width="0.45" />
<line x1="455.00" y1="468.00" x2="455.00" y2="470.50" stroke="#222" stroke-width="0.45" />
<line x1="457.10" y1="468.00" x2="457.10" y2="470.50" stroke="#222" stroke-width="0.45" />
<line x1="459.20" y1="468.00" x2="459.20" y2="470.50" stroke="#222" stroke-width="0.45" />
<line x1="461.30" y1="468.00" x2="461.30" y2="470.50" stroke="#222" stroke-width="0.45" />
<line x1="463.40" y1="468.00" x2="463.40" y2="470.50" stroke="#222" stroke-width="0.45" />
<line x1="465.50" y1="468.00" x2="465.50" y2="470.50" stroke="#222" stroke-width="0.45" />
<line x1="467.60" y1="468.00" x2="467.60" y2="470.50" stroke="#222" stroke-width="0.45" />
<line x1="469.70" y1="468.00" x2="469.70" y2="470.50" stroke="#222" stroke-width="0.45" />
<line x1="471.80" y1="468.00" x2="471.80" y2="470.50" stroke="#222" stroke-width="0.45" />
<line x1="473.90" y1="468.00" x2="473.90" y2="470.50" stroke="#222" stroke-width="0.45" />
<line x1="476.00" y1="468.00" x2="476.00" y2="470.50" stroke="#222" stroke-width="0.45" />
<line x1="478.10" y1="468.00" x2="478.10" y2="470.50" stroke="#222" stroke-width="0.45" />
<line x1="480.20" y1="468.00" x2="480.20" y2="470.50" stroke="#222" stroke-width="0.45" />
<line x1="482.30" y1="468.00" x2="482.30" y2="470.50" stroke="#222" stroke-width="0.45" />
<line x1="484.40" y1="468.00" x2="484.40" y2="470.50" stroke="#222" stroke-width="0.45" />
<line x1="385.10" y1="467.60" x2="385.10" y2="471.20" stroke="#111" stroke-width="0.7" />
<line x1="401.70" y1="467.60" x2="401.70" y2="471.20" stroke="#111" stroke-width="0.7" />
<line x1="421.20" y1="467.60" x2="421.20" y2="471.20" stroke="#111" stroke-width="0.7" />
<line x1="451.90" y1="467.60" x2="451.90" y2="471.20" stroke="#111" stroke-width="0.7" />
<line x1="478.40" y1="467.60" x2="478.40" y2="471.20" stroke="#111" stroke-width="0.7" />
<text x="385.10" y="478.50" font-family="Liberation Sans, sans-serif" font-size="5.0" fill="#444" text-anchor="middle">-10<tspan dy="-1.8" font-size="3.6">3</tspan></text>
<text x="401.70" y="478.50" font-family="Liberation Sans, sans-serif" font-size="5.0" fill="#444" text-anchor="middle">0</text>
<text x="421.20" y="478.50" font-family="Liberation Sans, sans-serif" font-size="5.0" fill="#444" text-anchor="middle">10<tspan dy="-1.8" font-size="3.6">3</tspan></text>
<text x="451.90" y="478.50" font-family="Liberation Sans, sans-serif" font-size="5.0" fill="#444" text-anchor="middle">10<tspan dy="-1.8" font-size="3.6">4</tspan></text>
<text x="478.40" y="478.50" font-family="Liberation Sans, sans-serif" font-size="5.0" fill="#444" text-anchor="middle">10<tspan dy="-1.8" font-size="3.6">5</tspan></text>
<text x="407.50" y="498.10" font-family="Liberation Sans, sans-serif" font-size="15.2" fill="#000" textLength="47.80" lengthAdjust="spacingAndGlyphs">CD206</text>
</svg>
</body></html>
